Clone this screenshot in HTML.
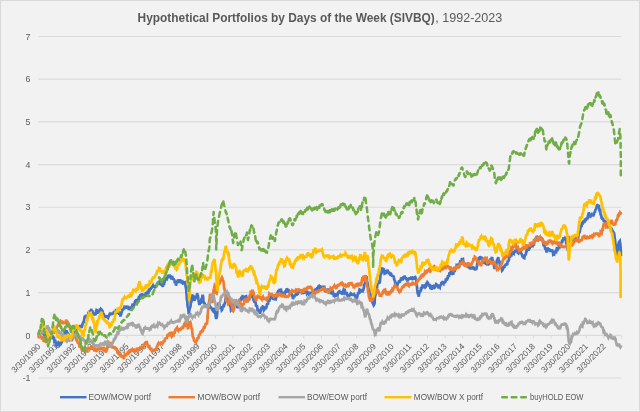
<!DOCTYPE html>
<html><head><meta charset="utf-8"><title>Hypothetical Portfolios by Days of the Week (SIVBQ), 1992-2023</title>
<style>html,body{margin:0;padding:0;background:#f2f2f2;}body{width:640px;height:412px;overflow:hidden;}svg{display:block;font-family:"Liberation Sans",sans-serif;}</style></head><body>
<svg width="640" height="412" viewBox="0 0 640 412">
<rect x="0.5" y="0.5" width="639" height="411" fill="#f2f2f2" stroke="#d9d9d9" stroke-width="1"/>
<line x1="38.3" x2="621.2" y1="378.00" y2="378.00" stroke="#dbdbdb" stroke-width="1.15"/>
<line x1="38.3" x2="621.2" y1="335.31" y2="335.31" stroke="#dbdbdb" stroke-width="1.15"/>
<line x1="38.3" x2="621.2" y1="292.62" y2="292.62" stroke="#dbdbdb" stroke-width="1.15"/>
<line x1="38.3" x2="621.2" y1="249.94" y2="249.94" stroke="#dbdbdb" stroke-width="1.15"/>
<line x1="38.3" x2="621.2" y1="207.25" y2="207.25" stroke="#dbdbdb" stroke-width="1.15"/>
<line x1="38.3" x2="621.2" y1="164.56" y2="164.56" stroke="#dbdbdb" stroke-width="1.15"/>
<line x1="38.3" x2="621.2" y1="121.88" y2="121.88" stroke="#dbdbdb" stroke-width="1.15"/>
<line x1="38.3" x2="621.2" y1="79.19" y2="79.19" stroke="#dbdbdb" stroke-width="1.15"/>
<line x1="38.3" x2="621.2" y1="36.50" y2="36.50" stroke="#dbdbdb" stroke-width="1.15"/>
<line x1="38.80" x2="38.80" y1="335.31" y2="338.31" stroke="#d9d9d9" stroke-width="1"/>
<line x1="56.46" x2="56.46" y1="335.31" y2="338.31" stroke="#d9d9d9" stroke-width="1"/>
<line x1="74.13" x2="74.13" y1="335.31" y2="338.31" stroke="#d9d9d9" stroke-width="1"/>
<line x1="91.79" x2="91.79" y1="335.31" y2="338.31" stroke="#d9d9d9" stroke-width="1"/>
<line x1="109.45" x2="109.45" y1="335.31" y2="338.31" stroke="#d9d9d9" stroke-width="1"/>
<line x1="127.12" x2="127.12" y1="335.31" y2="338.31" stroke="#d9d9d9" stroke-width="1"/>
<line x1="144.78" x2="144.78" y1="335.31" y2="338.31" stroke="#d9d9d9" stroke-width="1"/>
<line x1="162.45" x2="162.45" y1="335.31" y2="338.31" stroke="#d9d9d9" stroke-width="1"/>
<line x1="180.11" x2="180.11" y1="335.31" y2="338.31" stroke="#d9d9d9" stroke-width="1"/>
<line x1="197.77" x2="197.77" y1="335.31" y2="338.31" stroke="#d9d9d9" stroke-width="1"/>
<line x1="215.44" x2="215.44" y1="335.31" y2="338.31" stroke="#d9d9d9" stroke-width="1"/>
<line x1="233.10" x2="233.10" y1="335.31" y2="338.31" stroke="#d9d9d9" stroke-width="1"/>
<line x1="250.76" x2="250.76" y1="335.31" y2="338.31" stroke="#d9d9d9" stroke-width="1"/>
<line x1="268.43" x2="268.43" y1="335.31" y2="338.31" stroke="#d9d9d9" stroke-width="1"/>
<line x1="286.09" x2="286.09" y1="335.31" y2="338.31" stroke="#d9d9d9" stroke-width="1"/>
<line x1="303.75" x2="303.75" y1="335.31" y2="338.31" stroke="#d9d9d9" stroke-width="1"/>
<line x1="321.42" x2="321.42" y1="335.31" y2="338.31" stroke="#d9d9d9" stroke-width="1"/>
<line x1="339.08" x2="339.08" y1="335.31" y2="338.31" stroke="#d9d9d9" stroke-width="1"/>
<line x1="356.75" x2="356.75" y1="335.31" y2="338.31" stroke="#d9d9d9" stroke-width="1"/>
<line x1="374.41" x2="374.41" y1="335.31" y2="338.31" stroke="#d9d9d9" stroke-width="1"/>
<line x1="392.07" x2="392.07" y1="335.31" y2="338.31" stroke="#d9d9d9" stroke-width="1"/>
<line x1="409.74" x2="409.74" y1="335.31" y2="338.31" stroke="#d9d9d9" stroke-width="1"/>
<line x1="427.40" x2="427.40" y1="335.31" y2="338.31" stroke="#d9d9d9" stroke-width="1"/>
<line x1="445.06" x2="445.06" y1="335.31" y2="338.31" stroke="#d9d9d9" stroke-width="1"/>
<line x1="462.73" x2="462.73" y1="335.31" y2="338.31" stroke="#d9d9d9" stroke-width="1"/>
<line x1="480.39" x2="480.39" y1="335.31" y2="338.31" stroke="#d9d9d9" stroke-width="1"/>
<line x1="498.05" x2="498.05" y1="335.31" y2="338.31" stroke="#d9d9d9" stroke-width="1"/>
<line x1="515.72" x2="515.72" y1="335.31" y2="338.31" stroke="#d9d9d9" stroke-width="1"/>
<line x1="533.38" x2="533.38" y1="335.31" y2="338.31" stroke="#d9d9d9" stroke-width="1"/>
<line x1="551.05" x2="551.05" y1="335.31" y2="338.31" stroke="#d9d9d9" stroke-width="1"/>
<line x1="568.71" x2="568.71" y1="335.31" y2="338.31" stroke="#d9d9d9" stroke-width="1"/>
<line x1="586.37" x2="586.37" y1="335.31" y2="338.31" stroke="#d9d9d9" stroke-width="1"/>
<line x1="604.04" x2="604.04" y1="335.31" y2="338.31" stroke="#d9d9d9" stroke-width="1"/>
<line x1="621.70" x2="621.70" y1="335.31" y2="338.31" stroke="#d9d9d9" stroke-width="1"/>
<text x="30.5" y="381.20" font-size="8.8" fill="#595959" text-anchor="end">-1</text>
<text x="30.5" y="338.51" font-size="8.8" fill="#595959" text-anchor="end">0</text>
<text x="30.5" y="295.82" font-size="8.8" fill="#595959" text-anchor="end">1</text>
<text x="30.5" y="253.14" font-size="8.8" fill="#595959" text-anchor="end">2</text>
<text x="30.5" y="210.45" font-size="8.8" fill="#595959" text-anchor="end">3</text>
<text x="30.5" y="167.76" font-size="8.8" fill="#595959" text-anchor="end">4</text>
<text x="30.5" y="125.08" font-size="8.8" fill="#595959" text-anchor="end">5</text>
<text x="30.5" y="82.39" font-size="8.8" fill="#595959" text-anchor="end">6</text>
<text x="30.5" y="39.70" font-size="8.8" fill="#595959" text-anchor="end">7</text>
<text y="21.9" font-size="12.4" fill="#595959"><tspan x="137.6" font-weight="bold" textLength="297.2" lengthAdjust="spacingAndGlyphs">Hypothetical Portfolios by Days of the Week (SIVBQ)</tspan><tspan x="435.3" textLength="67" lengthAdjust="spacingAndGlyphs">, 1992-2023</tspan></text>
<text transform="translate(41.00,347.0) rotate(-45)" font-size="8.4" fill="#595959" text-anchor="end">3/30/1990</text>
<text transform="translate(58.66,347.0) rotate(-45)" font-size="8.4" fill="#595959" text-anchor="end">3/30/1991</text>
<text transform="translate(76.33,347.0) rotate(-45)" font-size="8.4" fill="#595959" text-anchor="end">3/30/1992</text>
<text transform="translate(93.99,347.0) rotate(-45)" font-size="8.4" fill="#595959" text-anchor="end">3/30/1993</text>
<text transform="translate(111.65,347.0) rotate(-45)" font-size="8.4" fill="#595959" text-anchor="end">3/30/1994</text>
<text transform="translate(129.32,347.0) rotate(-45)" font-size="8.4" fill="#595959" text-anchor="end">3/30/1995</text>
<text transform="translate(146.98,347.0) rotate(-45)" font-size="8.4" fill="#595959" text-anchor="end">3/30/1996</text>
<text transform="translate(164.65,347.0) rotate(-45)" font-size="8.4" fill="#595959" text-anchor="end">3/30/1997</text>
<text transform="translate(182.31,347.0) rotate(-45)" font-size="8.4" fill="#595959" text-anchor="end">3/30/1998</text>
<text transform="translate(199.97,347.0) rotate(-45)" font-size="8.4" fill="#595959" text-anchor="end">3/30/1999</text>
<text transform="translate(217.64,347.0) rotate(-45)" font-size="8.4" fill="#595959" text-anchor="end">3/30/2000</text>
<text transform="translate(235.30,347.0) rotate(-45)" font-size="8.4" fill="#595959" text-anchor="end">3/30/2001</text>
<text transform="translate(252.96,347.0) rotate(-45)" font-size="8.4" fill="#595959" text-anchor="end">3/30/2002</text>
<text transform="translate(270.63,347.0) rotate(-45)" font-size="8.4" fill="#595959" text-anchor="end">3/30/2003</text>
<text transform="translate(288.29,347.0) rotate(-45)" font-size="8.4" fill="#595959" text-anchor="end">3/30/2004</text>
<text transform="translate(305.95,347.0) rotate(-45)" font-size="8.4" fill="#595959" text-anchor="end">3/30/2005</text>
<text transform="translate(323.62,347.0) rotate(-45)" font-size="8.4" fill="#595959" text-anchor="end">3/30/2006</text>
<text transform="translate(341.28,347.0) rotate(-45)" font-size="8.4" fill="#595959" text-anchor="end">3/30/2007</text>
<text transform="translate(358.95,347.0) rotate(-45)" font-size="8.4" fill="#595959" text-anchor="end">3/30/2008</text>
<text transform="translate(376.61,347.0) rotate(-45)" font-size="8.4" fill="#595959" text-anchor="end">3/30/2009</text>
<text transform="translate(394.27,347.0) rotate(-45)" font-size="8.4" fill="#595959" text-anchor="end">3/30/2010</text>
<text transform="translate(411.94,347.0) rotate(-45)" font-size="8.4" fill="#595959" text-anchor="end">3/30/2011</text>
<text transform="translate(429.60,347.0) rotate(-45)" font-size="8.4" fill="#595959" text-anchor="end">3/30/2012</text>
<text transform="translate(447.26,347.0) rotate(-45)" font-size="8.4" fill="#595959" text-anchor="end">3/30/2013</text>
<text transform="translate(464.93,347.0) rotate(-45)" font-size="8.4" fill="#595959" text-anchor="end">3/30/2014</text>
<text transform="translate(482.59,347.0) rotate(-45)" font-size="8.4" fill="#595959" text-anchor="end">3/30/2015</text>
<text transform="translate(500.25,347.0) rotate(-45)" font-size="8.4" fill="#595959" text-anchor="end">3/30/2016</text>
<text transform="translate(517.92,347.0) rotate(-45)" font-size="8.4" fill="#595959" text-anchor="end">3/30/2017</text>
<text transform="translate(535.58,347.0) rotate(-45)" font-size="8.4" fill="#595959" text-anchor="end">3/30/2018</text>
<text transform="translate(553.25,347.0) rotate(-45)" font-size="8.4" fill="#595959" text-anchor="end">3/30/2019</text>
<text transform="translate(570.91,347.0) rotate(-45)" font-size="8.4" fill="#595959" text-anchor="end">3/30/2020</text>
<text transform="translate(588.57,347.0) rotate(-45)" font-size="8.4" fill="#595959" text-anchor="end">3/30/2021</text>
<text transform="translate(606.24,347.0) rotate(-45)" font-size="8.4" fill="#595959" text-anchor="end">3/30/2022</text>
<polyline points="38.5,334.1 39.0,332.9 39.4,332.0 39.9,335.2 40.3,333.1 40.8,332.0 41.3,333.5 41.7,330.5 42.2,332.2 42.7,330.5 43.1,333.4 43.6,334.0 44.1,333.1 44.6,332.4 45.0,336.2 45.5,337.3 46.0,336.6 46.5,338.6 46.9,336.3 47.4,339.3 47.9,338.5 48.3,337.7 48.7,336.6 49.1,337.9 49.6,336.1 50.0,339.0 50.4,337.9 50.8,335.8 51.2,338.1 51.7,335.8 52.1,338.7 52.5,336.1 52.9,336.6 53.4,339.2 53.9,336.6 54.3,340.9 54.8,340.4 55.2,339.6 55.7,343.9 56.1,343.5 56.6,341.6 57.0,345.1 57.5,344.6 58.0,342.9 58.4,342.3 58.9,342.8 59.4,345.4 59.9,344.8 60.3,344.5 60.7,344.3 61.1,342.3 61.6,342.4 62.0,341.7 62.4,340.4 62.9,337.3 63.3,335.8 63.8,333.9 64.3,332.8 64.8,333.8 65.2,330.7 65.7,330.9 66.2,331.6 66.6,331.5 67.0,334.6 67.4,334.1 67.9,336.0 68.4,334.2 68.9,335.0 69.3,337.9 69.8,339.6 70.3,340.5 70.7,339.2 71.2,341.0 71.6,339.2 72.1,339.5 72.5,337.9 73.0,335.7 73.4,335.3 73.9,332.5 74.4,331.6 74.8,332.6 75.2,330.7 75.6,330.7 76.1,326.9 76.5,329.2 76.9,327.1 77.3,325.4 77.7,327.7 78.2,325.2 78.6,327.9 79.0,325.3 79.4,326.2 79.9,327.7 80.3,325.0 80.7,328.1 81.1,325.9 81.5,327.8 82.0,326.5 82.4,324.4 82.9,323.4 83.4,322.1 83.8,322.7 84.3,318.9 84.7,316.6 85.1,316.4 85.6,318.1 86.0,315.8 86.5,315.7 87.0,317.0 87.5,317.0 87.9,316.2 88.4,312.8 88.9,312.6 89.4,313.7 89.8,310.3 90.3,312.0 90.8,310.4 91.3,308.9 91.7,312.8 92.2,310.3 92.7,312.0 93.2,314.5 93.6,312.6 94.1,315.3 94.6,314.5 95.1,314.2 95.6,314.2 96.1,311.4 96.5,310.0 96.9,310.2 97.3,313.2 97.7,312.6 98.2,313.3 98.7,310.2 99.1,312.8 99.6,310.7 100.1,308.6 100.6,311.4 101.0,309.1 101.5,309.5 101.9,311.4 102.3,310.0 102.8,312.6 103.2,314.2 103.6,313.3 104.0,315.8 104.5,317.5 105.0,315.2 105.4,317.9 105.9,316.4 106.5,315.3 107.0,317.1 107.5,317.4 108.0,317.9 108.4,316.5 108.9,316.1 109.4,314.8 109.8,315.6 110.3,312.7 110.8,315.0 111.3,312.6 111.7,314.0 112.2,314.8 112.7,312.6 113.1,314.2 113.6,312.8 114.1,313.2 114.5,314.0 115.0,310.8 115.5,314.2 115.9,311.1 116.4,311.6 116.9,313.4 117.3,310.6 117.8,313.6 118.3,312.1 118.8,313.2 119.3,312.8 119.8,313.7 120.3,315.5 120.8,315.4 121.2,311.7 121.7,312.3 122.2,310.6 122.7,308.5 123.1,309.9 123.6,308.8 124.1,308.1 124.5,306.7 125.0,306.9 125.5,308.8 125.9,307.8 126.4,305.8 126.9,306.8 127.3,307.7 127.8,306.0 128.3,307.2 128.8,309.9 129.2,307.1 129.7,308.5 130.2,310.1 130.6,306.5 131.1,308.6 131.6,309.0 132.0,306.9 132.5,304.9 133.0,305.1 133.4,306.1 133.9,305.8 134.4,303.8 134.8,304.3 135.3,300.8 135.8,300.3 136.3,300.3 136.7,300.7 137.2,302.3 137.7,298.8 138.1,300.6 138.6,298.4 139.1,299.1 139.5,299.0 140.0,296.2 140.4,296.6 140.8,295.5 141.3,296.7 141.7,293.4 142.2,294.6 142.7,296.1 143.1,293.7 143.6,296.3 144.1,294.3 144.5,296.2 145.0,293.9 145.5,297.0 145.9,293.0 146.4,292.9 146.9,293.8 147.3,294.5 147.8,290.8 148.3,293.7 148.8,290.4 149.2,290.7 149.7,291.4 150.2,288.3 150.6,289.8 151.1,286.9 151.6,288.3 152.0,286.9 152.5,286.4 153.0,285.5 153.4,286.5 153.9,286.8 154.4,287.1 154.8,284.9 155.3,287.7 155.8,286.5 156.2,285.2 156.7,286.4 157.2,282.7 157.7,284.7 158.1,282.7 158.6,282.9 159.1,283.3 159.6,280.5 160.2,282.1 160.6,281.3 161.1,281.9 161.6,285.9 162.0,283.3 162.5,286.0 163.0,286.7 163.4,283.4 163.9,285.0 164.4,281.2 164.8,281.3 165.4,279.7 165.9,277.9 166.4,279.0 166.9,279.2 167.3,277.0 167.8,278.0 168.3,274.9 168.8,275.8 169.2,277.9 169.7,274.5 170.2,278.3 170.6,276.0 171.1,277.4 171.6,279.4 172.0,276.0 172.5,277.3 173.0,279.8 173.4,278.2 173.9,280.4 174.4,279.3 174.8,283.1 175.3,281.3 175.8,284.4 176.2,284.5 176.7,282.2 177.2,283.2 177.7,279.7 178.1,280.5 178.6,282.6 179.1,279.3 179.5,281.9 180.0,279.3 180.5,281.3 180.9,283.1 181.4,280.4 181.9,282.4 182.3,282.9 182.8,282.1 183.3,283.1 183.8,281.1 184.2,284.4 184.7,283.4 185.2,282.9 185.7,287.0 186.2,289.1 186.4,292.6 186.6,294.8 186.9,299.7 187.2,299.8 187.5,305.4 187.8,307.2 188.2,308.1 188.6,312.8 189.1,312.7 189.6,308.7 190.2,307.2 190.5,306.4 190.9,301.0 191.2,299.4 191.7,300.0 192.1,297.6 192.5,295.5 193.0,295.7 193.5,296.3 194.1,299.4 194.6,300.8 195.1,297.5 195.6,297.9 196.1,297.0 196.7,295.6 197.2,293.2 197.6,296.0 198.0,296.0 198.4,299.4 199.0,303.0 199.5,304.9 200.1,302.4 200.6,303.6 201.1,301.8 201.6,297.9 202.1,298.5 202.7,294.8 203.1,296.2 203.4,301.0 204.0,303.6 204.5,302.4 205.0,305.7 205.5,307.0 205.9,304.3 206.4,307.9 206.9,304.6 207.3,306.5 207.8,307.9 208.3,304.7 208.8,307.6 209.2,304.1 209.7,305.7 210.2,308.4 210.7,306.6 211.2,308.8 211.7,307.8 212.2,309.8 212.7,310.4 213.1,311.0 213.6,309.6 214.1,309.0 214.6,309.5 215.2,311.9 215.7,316.8 216.2,319.0 216.7,317.2 217.1,315.0 217.5,310.4 218.0,306.0 218.5,303.6 219.1,302.6 219.6,305.0 220.1,307.3 220.6,307.2 221.1,306.5 221.7,310.2 222.2,309.6 222.7,306.4 223.2,307.3 223.8,304.1 224.3,304.8 224.8,303.1 225.3,301.8 225.8,297.4 226.4,297.3 226.9,293.2 227.4,293.8 227.9,299.2 228.4,299.4 229.0,299.8 229.5,304.5 230.0,305.7 230.5,305.3 231.0,310.2 231.6,309.6 232.1,307.2 232.6,309.0 233.1,306.5 233.6,304.0 234.2,302.5 234.7,302.6 235.2,301.4 235.7,304.2 236.2,304.1 236.8,303.8 237.3,308.0 237.8,307.2 238.3,303.5 238.9,304.3 239.4,301.0 239.9,298.7 240.4,301.2 240.9,298.7 241.5,296.9 242.0,298.0 242.5,296.3 243.0,296.5 243.5,300.2 244.1,299.4 244.6,296.6 245.1,297.9 245.6,296.3 246.1,296.2 246.6,298.5 247.0,297.2 247.5,300.0 248.0,299.4 248.4,298.5 248.9,300.3 249.4,299.2 249.8,296.8 250.3,297.9 250.8,295.8 251.4,297.3 251.9,295.5 252.4,295.2 252.9,296.4 253.4,299.4 254.0,299.1 254.5,302.8 255.0,301.8 255.5,302.2 256.0,305.6 256.6,305.7 257.1,306.3 257.6,310.4 258.1,310.4 258.6,310.3 259.2,310.9 259.7,312.7 260.2,312.7 260.7,310.9 261.2,308.8 261.8,306.8 262.3,308.6 262.8,306.5 263.3,306.7 263.9,310.2 264.4,309.6 264.8,308.1 265.3,306.5 265.8,309.1 266.3,307.6 266.7,305.7 267.2,303.3 267.8,304.7 268.3,301.8 268.8,299.9 269.3,301.3 269.8,299.4 270.3,297.3 270.8,297.4 271.2,296.9 271.7,297.5 272.2,297.9 272.7,297.0 273.1,299.9 273.6,297.0 274.1,300.0 274.5,299.4 275.0,297.6 275.5,298.5 275.9,298.8 276.4,295.4 276.9,295.3 277.3,292.8 277.8,292.2 278.3,290.8 278.8,290.7 279.2,291.4 279.7,288.9 280.2,289.9 280.6,291.1 281.1,290.6 281.6,293.1 282.0,293.2 282.5,293.0 283.0,294.5 283.4,294.3 283.9,293.0 284.4,295.4 284.8,294.6 285.2,291.6 285.7,291.0 286.1,293.0 286.5,288.6 286.9,289.1 287.3,290.2 287.8,288.7 288.3,292.0 288.8,290.7 289.2,292.9 289.7,291.4 290.2,292.0 290.6,292.0 291.1,294.6 291.6,293.4 292.0,296.4 292.5,295.7 293.0,299.0 293.4,297.7 293.9,295.7 294.4,297.3 294.8,294.5 295.3,295.8 295.8,294.6 296.2,292.4 296.7,295.8 297.2,293.1 297.7,294.8 298.1,293.0 298.6,291.9 299.1,293.0 299.5,290.4 300.0,292.1 300.5,290.7 300.9,290.1 301.4,292.6 301.9,290.0 302.3,292.1 302.8,291.5 303.3,293.0 303.8,292.9 304.2,289.3 304.7,291.7 305.2,290.7 305.6,289.7 306.1,293.2 306.6,290.7 307.0,293.6 307.5,293.0 308.0,291.5 308.4,294.4 308.9,292.3 309.4,296.1 309.8,294.6 310.3,292.9 310.8,293.0 311.2,292.0 311.7,295.2 312.2,293.0 312.7,291.8 313.1,293.3 313.6,290.6 314.1,292.3 314.5,290.7 315.0,289.4 315.5,290.8 315.9,288.3 316.4,290.2 316.9,288.3 317.3,287.6 317.8,289.7 318.3,286.5 318.8,286.1 319.2,287.6 319.7,285.3 320.2,288.6 320.6,288.5 321.1,286.9 321.6,286.0 322.0,288.3 322.5,288.8 323.0,286.0 323.4,286.7 323.9,288.3 324.4,287.8 324.8,290.0 325.3,291.2 325.8,291.3 326.2,290.7 326.7,289.7 327.2,291.2 327.7,288.6 328.1,290.9 328.6,289.9 329.1,289.9 329.5,292.9 330.0,290.6 330.5,293.0 330.9,293.0 331.4,292.3 331.9,294.5 332.3,292.1 332.8,291.8 333.3,293.8 333.7,295.4 334.2,295.2 334.7,296.2 335.2,295.9 335.6,295.4 336.1,293.2 336.6,295.3 337.0,295.0 337.5,295.4 338.0,293.0 338.4,292.1 338.9,291.6 339.4,291.3 339.8,293.4 340.3,292.2 340.8,290.9 341.2,293.4 341.7,292.5 342.2,294.7 342.7,293.8 343.2,291.3 343.7,289.4 344.2,289.9 344.7,289.0 345.3,293.3 345.8,293.0 346.3,293.5 346.8,293.3 347.3,296.2 347.8,295.1 348.3,296.8 348.8,296.2 349.2,296.1 349.7,294.6 350.2,294.1 350.6,295.7 351.1,293.7 351.6,294.2 352.0,295.4 352.5,293.6 353.0,295.9 353.4,294.2 353.9,295.9 354.4,294.6 354.9,295.3 355.4,296.6 355.9,298.5 356.5,298.1 357.0,297.9 357.5,295.4 358.0,293.4 358.5,293.3 359.1,291.5 359.5,289.6 359.9,289.9 360.4,291.9 360.8,291.5 361.3,289.1 361.7,290.5 362.1,289.0 362.5,290.4 362.9,290.9 363.3,290.0 363.8,288.1 364.3,283.8 364.8,284.6 365.3,280.3 365.7,279.7 366.1,278.7 366.6,276.4 367.0,280.7 367.4,282.8 367.8,283.4 368.3,288.3 368.8,289.7 369.2,290.0 369.6,294.0 370.0,294.4 370.5,294.4 371.0,299.4 371.6,299.1 372.1,299.8 372.6,303.0 373.1,303.8 373.7,305.3 374.2,304.5 374.6,303.2 374.9,296.9 375.3,295.9 375.7,294.2 376.1,289.0 376.6,288.1 377.1,287.1 377.6,282.2 378.1,281.9 378.6,283.9 379.2,282.2 379.7,283.4 380.1,279.4 380.5,275.4 380.9,274.1 381.5,273.2 382.0,268.6 382.5,267.8 383.1,271.2 383.6,270.9 384.1,270.4 384.6,273.6 385.2,273.3 385.6,271.8 386.1,274.0 386.6,270.9 387.0,270.7 387.5,271.7 388.0,271.4 388.4,273.1 388.9,271.8 389.4,273.3 389.8,274.7 390.2,272.4 390.6,275.9 391.0,275.2 391.4,274.8 391.9,276.3 392.3,275.1 392.8,277.0 393.3,275.6 393.8,277.2 394.3,279.9 394.8,280.4 395.3,283.4 395.8,285.6 396.4,285.9 396.9,285.0 397.3,286.1 397.8,281.9 398.3,283.2 398.8,281.9 399.2,280.3 399.6,282.3 400.0,281.5 400.4,280.7 400.8,279.5 401.2,277.4 401.6,278.1 402.0,277.6 402.4,280.4 402.8,278.8 403.3,276.6 403.8,279.2 404.2,275.8 404.7,276.4 405.2,278.9 405.6,277.7 406.1,278.2 406.6,280.3 407.0,279.2 407.4,281.5 407.8,278.1 408.2,280.5 408.6,278.8 409.0,278.0 409.4,279.6 409.8,277.1 410.2,278.9 410.6,278.0 411.1,277.4 411.6,276.7 412.0,279.9 412.5,278.8 413.0,279.8 413.4,276.7 413.9,278.3 414.4,277.2 414.9,277.0 415.4,279.6 415.9,278.8 416.3,279.9 416.6,285.0 416.9,285.8 417.2,289.7 417.7,293.3 418.2,293.6 418.8,296.7 419.2,293.6 419.6,291.3 420.0,291.2 420.5,292.0 421.0,287.3 421.6,288.1 422.0,286.7 422.5,285.5 423.0,285.7 423.4,286.6 423.9,286.1 424.4,288.1 424.8,286.2 425.3,287.3 425.8,286.8 426.4,283.5 426.9,283.4 427.4,282.1 427.9,282.6 428.4,284.2 429.0,286.3 429.5,284.0 430.0,286.6 430.5,289.1 431.0,286.8 431.6,288.9 432.0,289.7 432.4,286.6 432.8,286.8 433.2,286.4 433.6,287.3 434.0,287.4 434.4,287.8 434.8,287.3 435.2,287.1 435.6,285.0 436.1,284.0 436.6,284.4 437.0,286.5 437.5,285.8 438.0,284.4 438.4,288.4 438.9,286.1 439.4,287.3 439.8,287.7 440.3,284.4 440.8,286.0 441.3,283.0 441.7,283.0 442.2,283.7 442.7,281.1 443.1,282.9 443.6,283.6 444.1,281.5 444.5,283.1 445.0,282.0 445.5,281.7 445.9,278.5 446.4,279.9 446.8,280.5 447.2,277.5 447.6,279.3 448.0,276.1 448.4,276.0 449.0,276.8 449.5,272.3 450.0,272.9 450.5,273.2 450.9,270.9 451.4,270.2 451.9,271.3 452.4,270.3 452.9,273.8 453.4,273.7 454.0,270.8 454.5,272.0 455.0,269.8 455.5,268.2 455.9,267.6 456.4,265.9 456.9,266.6 457.3,264.6 457.7,265.2 458.1,266.3 458.5,263.5 458.9,265.1 459.4,265.5 460.0,262.3 460.5,262.7 461.0,263.1 461.5,261.0 462.0,258.0 462.5,260.7 463.1,260.0 463.6,263.5 464.0,264.9 464.4,262.5 464.8,266.1 465.2,263.6 465.6,265.8 466.1,266.5 466.6,263.8 467.0,266.9 467.5,265.1 468.0,264.1 468.4,268.0 468.9,265.8 469.4,267.4 469.8,268.9 470.2,266.8 470.6,269.6 471.0,266.4 471.4,268.2 471.8,269.1 472.2,267.2 472.6,269.0 473.0,266.5 473.4,267.4 473.9,269.4 474.4,267.4 474.8,270.4 475.3,269.0 475.8,268.8 476.4,268.8 476.9,266.6 477.4,262.5 477.9,263.7 478.4,259.6 478.9,257.3 479.4,260.3 479.8,256.5 480.3,257.2 480.7,259.1 481.1,256.6 481.5,259.6 481.9,257.2 482.3,258.8 482.9,261.2 483.4,259.5 483.9,261.2 484.4,263.6 485.0,261.7 485.5,263.5 486.0,263.8 486.5,261.6 487.0,261.9 487.5,261.9 488.1,261.7 488.6,264.3 489.0,264.1 489.4,261.2 489.8,262.1 490.2,259.6 490.6,259.6 491.2,260.5 491.7,258.0 492.3,258.1 492.8,261.9 493.2,264.7 493.6,263.5 494.1,266.6 494.6,269.0 495.1,266.3 495.6,268.2 496.1,266.2 496.7,261.4 497.2,259.6 497.7,259.2 498.3,257.2 498.7,260.8 499.1,262.0 499.5,261.9 500.0,265.4 500.6,267.2 501.1,267.4 501.6,267.6 502.1,270.5 502.7,269.8 503.1,268.6 503.5,267.2 503.9,266.7 504.3,267.9 504.7,266.6 505.2,265.2 505.6,266.0 506.1,263.5 506.6,264.3 507.1,265.2 507.6,261.4 508.1,261.2 508.5,260.9 509.0,259.4 509.4,256.5 509.9,257.9 510.4,254.4 510.9,254.9 511.4,255.1 511.9,251.9 512.3,255.0 512.8,252.6 513.3,253.0 513.8,253.5 514.2,251.0 514.7,252.5 515.2,251.0 515.7,249.6 516.2,251.4 516.7,250.2 517.2,249.7 517.8,253.0 518.3,253.3 518.7,251.7 519.1,251.8 519.5,250.5 519.9,252.7 520.3,251.8 520.8,251.8 521.2,253.2 521.7,254.0 522.2,255.7 522.7,257.3 523.2,256.1 523.8,258.0 524.3,258.2 524.8,255.2 525.3,254.9 525.7,254.7 526.1,252.9 526.6,250.2 527.1,250.5 527.6,249.1 528.1,249.4 528.6,250.7 529.1,246.4 529.5,249.1 530.0,247.1 530.0,244.6 530.5,245.9 530.9,246.1 531.4,243.9 531.9,246.8 532.3,246.2 532.7,244.0 533.2,244.9 533.6,244.0 534.0,244.1 534.4,241.5 534.8,239.6 535.3,240.7 535.8,237.6 536.2,238.3 536.7,236.9 537.2,236.9 537.7,239.5 538.1,239.9 538.6,239.1 539.0,240.5 539.4,237.3 539.8,239.6 540.2,236.4 540.6,237.6 541.1,239.5 541.6,237.7 542.0,240.9 542.5,239.9 543.0,241.0 543.5,245.2 544.1,245.4 544.6,245.9 545.1,248.5 545.6,249.3 546.0,249.1 546.4,251.6 546.9,252.4 547.5,247.6 548.0,248.5 548.5,249.9 549.0,248.2 549.5,250.4 550.0,251.0 550.6,251.0 551.1,249.3 551.6,251.6 552.1,249.5 552.7,251.6 553.2,254.5 553.7,254.1 554.2,254.4 554.7,252.2 555.3,251.3 555.8,250.8 556.3,251.4 556.8,248.3 557.3,248.5 557.9,249.3 558.4,248.3 558.9,246.9 559.4,247.1 559.8,243.3 560.3,245.0 560.8,244.3 561.2,242.2 561.7,242.9 562.2,239.7 562.7,240.5 563.1,239.1 563.5,237.4 563.9,240.2 564.3,237.8 564.8,239.7 565.2,238.3 565.7,239.0 566.2,243.4 566.7,243.8 567.3,245.4 567.8,250.1 568.2,251.1 568.6,247.3 569.1,247.7 569.6,244.9 570.1,243.4 570.6,243.8 571.1,243.9 571.6,244.4 572.0,243.1 572.5,240.6 573.0,240.7 573.4,241.9 573.9,239.0 574.4,241.4 574.8,238.5 575.3,239.1 575.8,239.9 576.2,237.0 576.7,237.6 577.2,237.1 577.7,237.6 578.2,237.1 578.7,233.8 579.2,232.9 579.8,231.9 580.3,228.2 580.7,226.8 581.1,225.8 581.6,225.8 582.1,222.9 582.6,222.3 583.1,222.7 583.6,220.6 584.2,223.0 584.7,220.4 585.2,218.6 585.7,221.0 586.2,219.6 586.8,217.8 587.3,219.4 587.8,216.5 588.2,216.7 588.6,212.6 589.1,213.3 589.6,215.4 590.1,216.1 590.6,216.5 591.1,215.5 591.7,214.6 592.2,215.7 592.7,214.5 593.2,216.2 593.8,214.9 594.3,211.9 594.8,212.7 595.3,210.2 595.8,209.4 596.4,208.1 596.9,205.5 597.4,205.1 597.9,205.4 598.4,206.3 598.9,206.2 599.3,210.1 599.7,211.0 600.2,210.6 600.6,214.5 601.1,214.9 601.6,218.0 602.2,218.0 602.6,219.7 603.0,217.9 603.4,220.4 603.9,221.4 604.3,220.1 604.7,221.2 605.2,223.3 605.6,220.7 606.1,223.8 606.6,223.5 607.0,222.3 607.5,225.7 608.0,223.7 608.4,227.2 608.9,226.6 609.4,225.5 609.8,228.7 610.3,227.1 610.8,229.5 611.2,229.0 611.7,227.9 612.2,232.1 612.7,230.0 613.1,233.3 613.6,232.1 614.1,233.2 614.7,237.6 615.1,240.3 615.5,245.0 615.8,247.3 616.2,252.3 616.5,254.0 617.0,254.3 617.5,256.0 617.7,254.1 617.9,249.6 618.1,248.5 618.3,245.0 618.8,242.6 619.4,241.5 619.8,241.0 620.3,244.0 620.5,246.4 620.8,250.0 620.9,253.9 621.0,255.0" fill="none" stroke="#4472c4" stroke-width="2.7" stroke-linejoin="miter" stroke-miterlimit="2.5" stroke-linecap="round"/>
<polyline points="38.5,336.0 39.0,338.1 39.4,334.9 39.8,337.9 40.3,335.7 40.7,338.3 41.1,336.1 41.6,337.2 42.0,339.6 42.4,337.7 42.8,338.4 43.2,338.0 43.7,341.9 44.1,341.0 44.6,339.8 45.0,342.4 45.5,340.5 46.0,341.6 46.5,342.9 46.9,338.6 47.4,341.0 47.9,339.1 48.4,336.5 48.8,336.4 49.3,336.6 49.8,336.6 50.2,336.9 50.7,336.0 51.2,335.8 51.7,334.1 52.1,332.7 52.6,334.0 53.1,331.4 53.6,331.6 54.0,332.8 54.5,332.7 55.0,331.4 55.5,330.3 55.9,331.2 56.4,329.7 56.9,326.6 57.3,326.5 57.8,326.2 58.3,323.4 58.8,324.8 59.2,322.7 59.7,321.5 60.2,323.1 60.7,321.0 61.1,321.4 61.6,322.9 62.1,320.5 62.5,324.1 63.0,323.3 63.5,321.5 64.0,324.1 64.4,321.6 64.9,322.7 65.4,323.9 65.9,320.6 66.3,319.8 66.8,321.4 67.3,320.6 67.8,324.2 68.2,322.8 68.7,324.0 69.2,326.5 69.6,325.4 70.1,328.9 70.6,329.0 71.1,329.6 71.5,332.7 72.0,331.0 72.5,334.1 73.0,336.0 73.4,333.4 73.9,336.9 74.4,336.6 74.8,336.4 75.2,336.6 75.6,336.1 76.1,339.8 76.5,340.3 76.9,339.1 77.4,341.8 77.8,342.7 78.3,343.1 78.8,342.9 79.3,346.0 79.7,347.3 80.2,345.0 80.7,347.9 81.1,347.3 81.5,348.1 81.9,350.5 82.4,348.6 82.8,351.7 83.2,350.5 83.6,348.6 84.1,351.4 84.5,348.7 84.9,351.9 85.3,348.4 85.7,349.8 86.2,351.1 86.6,351.3 87.0,350.8 87.4,348.1 87.8,350.1 88.3,348.6 88.7,347.6 89.1,348.9 89.5,347.0 89.9,349.5 90.4,347.2 90.8,347.9 91.2,347.0 91.6,346.7 92.0,349.8 92.5,346.9 92.9,348.3 93.3,349.2 93.7,347.4 94.2,350.3 94.6,351.4 95.0,348.1 95.4,348.7 95.8,349.8 96.2,348.9 96.7,350.9 97.1,350.7 97.5,348.4 97.9,349.6 98.3,348.6 98.8,347.8 99.2,350.5 99.6,348.0 100.0,348.6 100.0,347.6 100.4,348.7 100.9,346.6 101.3,350.1 101.8,347.0 102.2,349.9 102.7,347.0 103.1,349.1 103.6,350.2 104.0,350.1 104.5,351.1 104.9,348.0 105.4,351.2 105.8,351.3 106.2,349.9 106.7,350.3 107.1,349.0 107.6,346.0 108.0,344.9 108.5,344.6 108.9,343.6 109.4,344.4 109.9,345.8 110.4,342.1 110.9,342.9 111.5,345.9 112.0,345.1 112.5,348.3 113.0,347.5 113.4,347.3 113.9,348.5 114.4,346.4 114.8,347.6 115.3,349.1 115.8,347.3 116.2,350.2 116.7,349.4 117.2,350.7 117.7,349.7 118.1,351.7 118.6,351.8 119.1,352.1 119.5,354.6 120.0,356.4 120.5,354.3 120.9,357.3 121.4,355.0 121.9,356.2 122.4,357.7 122.9,355.8 123.4,357.7 123.9,359.0 124.4,355.6 124.8,354.4 125.3,355.2 125.8,355.4 126.2,356.2 126.7,353.4 127.2,354.9 127.7,351.5 128.1,352.2 128.6,352.8 129.1,350.0 129.5,353.1 130.0,349.3 130.5,350.7 130.9,352.1 131.4,349.7 131.9,349.5 132.3,349.1 132.8,349.9 133.3,351.5 133.8,348.4 134.2,351.3 134.7,352.3 135.2,350.7 135.6,352.0 136.1,349.0 136.6,350.9 137.0,347.7 137.5,349.1 138.0,350.4 138.4,349.7 138.9,349.5 139.4,349.1 139.8,348.3 140.3,349.4 140.8,346.9 141.2,348.9 141.7,346.4 142.2,347.6 142.7,348.3 143.1,348.0 143.6,346.3 144.1,343.8 144.5,344.4 145.0,343.4 145.5,341.9 145.9,343.8 146.4,341.3 146.9,342.1 147.3,344.3 147.8,345.6 148.3,346.6 148.8,346.0 149.2,344.8 149.6,348.1 150.0,347.1 150.4,350.1 150.8,349.1 151.2,347.7 151.7,350.9 152.2,351.4 152.7,351.3 153.1,350.7 153.6,349.4 154.1,351.8 154.5,348.6 155.0,350.5 155.5,349.1 155.9,348.9 156.4,349.1 156.9,346.8 157.3,346.2 157.8,344.4 158.3,343.5 158.8,344.8 159.2,342.3 159.7,344.8 160.2,342.9 160.6,344.3 161.1,341.6 161.6,343.1 162.0,343.6 162.5,342.1 163.0,343.1 163.4,342.6 163.9,340.2 164.4,342.1 164.8,339.8 165.3,337.7 165.8,339.2 166.2,337.3 166.7,339.1 167.2,336.6 167.7,334.0 168.2,336.3 168.8,334.3 169.2,332.9 169.7,335.0 170.2,335.3 170.6,331.9 171.1,332.7 171.6,333.0 172.1,336.4 172.7,335.8 173.1,334.0 173.6,334.5 174.1,331.7 174.5,333.6 175.0,331.2 175.5,328.7 176.0,330.5 176.6,328.0 177.0,327.5 177.5,329.8 178.0,330.4 178.4,328.2 178.9,329.6 179.4,328.3 179.8,330.9 180.3,328.2 180.8,329.7 181.2,328.8 181.7,327.1 182.2,329.3 182.7,326.0 183.1,328.3 183.6,326.5 184.1,324.5 184.6,324.7 185.2,322.6 185.7,322.2 186.2,325.2 186.7,324.9 187.2,325.1 187.8,328.2 188.3,328.0 188.8,323.5 189.4,321.3 189.9,323.2 190.4,322.5 190.9,324.4 191.5,328.7 192.0,328.8 192.5,333.8 192.9,337.4 193.3,336.8 193.8,339.3 194.3,341.4 194.8,339.8 195.3,342.4 195.8,342.5 196.2,339.9 196.7,341.4 197.2,339.3 197.7,337.4 198.2,338.9 198.8,336.2 199.3,334.2 199.8,335.5 200.3,333.0 200.8,331.1 201.2,333.3 201.7,330.1 202.2,331.6 202.7,329.1 203.1,329.8 203.6,328.5 204.1,326.0 204.5,328.5 205.0,326.0 205.5,324.5 205.9,322.8 206.4,324.0 206.9,323.6 207.3,321.3 207.5,316.7 207.7,316.8 207.9,311.8 208.1,310.4 208.5,308.1 208.9,304.1 209.3,299.7 209.6,299.2 210.0,294.8 210.4,294.8 210.8,299.7 211.2,299.4 211.7,299.2 212.1,302.1 212.5,302.6 212.8,298.3 213.0,297.5 213.3,292.3 213.6,290.1 214.1,288.3 214.7,285.4 215.2,286.1 215.7,291.5 216.2,293.2 216.7,293.5 217.1,291.4 217.5,288.5 218.0,285.3 218.5,283.8 219.1,283.8 219.5,284.3 220.0,280.6 220.5,279.6 220.9,279.9 221.5,278.3 222.0,277.3 222.5,278.3 222.9,280.9 223.3,281.0 223.8,283.8 224.1,288.3 224.5,288.4 224.8,291.6 225.3,294.9 225.7,295.2 226.1,298.7 226.6,301.8 227.1,299.9 227.7,302.6 228.1,304.2 228.6,303.8 229.1,302.9 229.5,300.4 230.0,301.0 230.5,302.9 230.9,301.9 231.4,305.2 231.9,305.7 232.3,306.1 232.7,310.9 233.1,311.2 233.5,310.6 234.0,309.2 234.4,305.7 234.9,301.8 235.5,301.8 236.0,304.2 236.5,302.7 237.0,304.1 237.6,303.8 238.1,301.3 238.6,301.0 239.1,301.9 239.6,300.9 240.2,301.8 240.7,305.3 241.2,304.0 241.7,306.5 242.2,307.0 242.8,304.3 243.3,304.1 243.8,304.9 244.3,300.6 244.8,301.0 245.4,302.4 245.9,298.0 246.4,299.4 246.9,299.2 247.4,302.2 248.0,301.0 248.5,298.3 249.0,299.4 249.5,296.3 250.1,296.5 250.6,292.7 251.1,293.2 251.6,292.9 252.1,290.7 252.7,290.8 253.2,293.4 253.7,293.2 254.2,296.3 254.7,298.2 255.3,298.3 255.8,300.2 256.3,300.1 256.8,296.8 257.3,296.3 257.9,297.3 258.4,295.4 258.9,297.1 259.4,298.3 259.8,296.1 260.3,298.9 260.8,296.9 261.2,298.7 261.7,299.3 262.2,296.5 262.7,297.4 263.1,296.7 263.6,297.9 264.1,300.0 264.5,297.8 265.0,299.4 265.5,298.0 265.9,299.4 266.4,299.9 266.9,296.6 267.3,299.7 267.8,298.2 268.3,297.1 268.8,296.8 269.3,293.5 269.8,294.0 270.3,294.9 270.7,293.5 271.1,295.7 271.5,293.1 271.9,294.0 272.3,295.4 272.8,294.3 273.3,297.1 273.8,294.1 274.2,296.6 274.7,296.2 275.2,294.6 275.6,297.1 276.1,294.5 276.6,294.0 277.0,294.6 277.5,295.9 278.0,296.0 278.4,293.5 278.9,295.5 279.4,293.8 279.8,293.9 280.3,294.1 280.8,294.4 281.3,295.8 281.7,296.9 282.2,295.4 282.7,297.3 283.1,295.0 283.6,294.0 284.1,295.4 284.5,296.8 285.0,295.2 285.5,297.9 285.9,295.7 286.4,297.7 286.9,295.6 287.5,296.8 288.0,295.4 288.4,296.4 288.9,295.9 289.4,292.8 289.8,294.5 290.3,293.0 290.8,291.4 291.2,291.2 291.7,292.2 292.2,290.3 292.7,290.7 293.1,289.7 293.6,292.4 294.1,289.9 294.5,292.5 295.0,291.5 295.5,290.7 295.9,291.9 296.4,289.1 296.9,292.2 297.3,290.7 297.8,288.6 298.3,292.0 298.8,288.4 299.2,292.0 299.7,289.9 300.2,289.2 300.6,291.9 301.1,289.3 301.6,292.0 302.0,291.5 302.5,290.2 303.1,292.7 303.6,290.7 304.1,288.3 304.5,291.3 305.0,287.6 305.5,290.3 305.9,288.3 306.4,289.6 306.9,289.5 307.3,286.7 307.8,288.5 308.3,287.6 308.7,285.9 309.2,288.8 309.7,286.1 310.2,287.6 310.6,286.8 311.1,287.1 311.7,288.2 312.2,290.7 312.7,290.0 313.2,293.4 313.8,293.8 314.2,291.7 314.7,294.7 315.2,292.6 315.6,292.1 316.1,293.0 316.6,291.1 317.0,291.8 317.5,290.9 318.0,292.5 318.4,291.5 318.9,289.5 319.4,291.5 319.8,289.4 320.3,291.4 320.8,289.9 321.2,290.9 321.7,288.3 322.2,289.7 322.7,289.5 323.1,288.3 323.6,287.0 324.1,290.0 324.5,290.8 325.0,288.4 325.5,289.9 325.9,289.1 326.4,292.4 326.9,289.7 327.3,292.5 327.8,291.5 328.3,292.6 328.8,292.6 329.2,289.7 329.7,291.5 330.2,289.9 330.6,288.1 331.1,288.7 331.6,287.1 332.0,290.2 332.5,288.3 333.0,286.8 333.4,288.4 333.9,286.4 334.4,285.6 334.8,286.8 335.3,287.7 335.8,285.3 336.2,287.9 336.7,287.8 337.2,286.0 337.7,284.7 338.1,286.9 338.6,283.9 339.1,285.9 339.5,284.4 340.0,283.2 340.6,285.1 341.1,282.9 341.6,282.7 342.0,284.9 342.5,282.4 343.0,286.2 343.4,285.2 343.9,284.3 344.4,287.0 344.8,283.8 345.3,284.6 345.8,286.0 346.2,286.6 346.7,286.3 347.2,284.5 347.7,286.9 348.1,285.2 348.6,285.8 349.1,284.8 349.5,282.3 350.0,284.3 350.5,282.9 350.9,283.8 351.4,282.2 351.9,283.3 352.3,285.8 352.8,284.4 353.3,286.2 353.8,285.6 354.2,284.5 354.7,286.7 355.2,286.0 355.6,285.3 356.1,284.4 356.6,284.2 357.0,287.0 357.5,285.2 358.0,284.4 358.4,284.0 358.9,283.8 359.4,284.7 359.8,286.0 360.4,284.7 360.9,285.9 361.4,283.7 362.0,279.5 362.5,277.4 362.9,278.9 363.3,275.8 363.8,276.6 364.3,280.2 364.8,280.5 365.2,277.3 365.6,275.1 366.0,278.6 366.5,279.2 366.9,283.4 367.2,287.5 367.6,286.7 368.0,291.2 368.5,293.4 369.1,297.5 369.5,297.4 369.9,299.2 370.3,301.4 370.8,300.1 371.4,301.7 371.9,299.8 372.4,298.2 372.9,298.9 373.4,297.5 374.0,294.2 374.5,295.1 375.0,292.8 375.5,290.0 376.0,292.3 376.6,289.7 377.1,288.8 377.6,292.8 378.1,292.8 378.6,291.8 379.2,293.3 379.7,295.2 380.2,294.9 380.7,295.0 381.2,296.7 381.7,294.0 382.2,294.9 382.7,291.7 383.1,291.2 383.6,292.5 384.2,291.7 384.7,289.7 385.2,289.5 385.7,291.3 386.2,293.6 386.7,295.2 387.1,294.5 387.5,294.0 387.9,291.1 388.3,292.8 388.7,293.9 389.1,294.3 389.5,294.1 389.9,291.3 390.3,292.0 390.8,292.1 391.2,289.8 391.7,291.5 392.2,289.7 392.7,290.5 393.1,289.9 393.6,288.1 394.1,286.6 394.5,285.5 394.9,285.1 395.3,287.2 395.7,287.8 396.1,285.8 396.6,287.6 397.1,286.3 397.7,288.9 398.1,290.7 398.5,288.9 398.9,291.0 399.3,291.8 399.7,291.2 400.2,292.6 400.6,289.3 401.1,290.1 401.6,288.9 402.0,287.6 402.5,286.6 403.0,286.5 403.4,286.6 403.8,286.7 404.3,284.4 404.7,286.6 405.1,283.6 405.5,284.2 405.9,285.9 406.3,283.0 406.7,285.2 407.1,282.8 407.5,283.4 408.0,282.2 408.4,285.7 408.9,286.2 409.4,285.0 409.8,284.0 410.3,285.5 410.8,283.0 411.2,284.2 411.7,285.6 412.1,283.2 412.5,282.7 412.9,281.7 413.3,283.4 413.7,284.5 414.1,282.7 414.5,285.3 414.9,283.2 415.3,284.2 415.8,285.3 416.2,283.9 416.7,283.1 417.2,281.9 417.7,279.1 418.1,280.9 418.6,280.4 419.1,278.8 419.5,280.2 419.9,276.8 420.3,278.6 420.7,277.0 421.1,277.2 421.5,275.6 421.9,274.7 422.3,277.4 422.7,274.7 423.1,274.8 423.6,275.6 424.1,274.9 424.5,273.1 425.0,271.7 425.5,272.6 425.9,273.1 426.4,272.9 426.9,272.5 427.3,270.9 427.8,269.5 428.3,271.8 428.8,269.5 429.2,269.1 429.7,270.6 430.2,271.6 430.6,271.4 431.1,268.7 431.6,270.0 432.0,268.6 432.5,269.0 433.0,267.2 433.4,267.0 433.9,266.5 434.4,267.8 434.8,267.0 435.3,269.1 435.8,267.8 436.3,270.8 436.7,269.4 437.2,269.0 437.7,271.6 438.1,269.0 438.6,271.6 439.1,270.2 439.5,270.5 439.9,270.7 440.4,268.1 440.8,271.2 441.3,267.3 441.7,269.0 442.2,269.1 442.7,266.7 443.1,269.1 443.6,265.5 444.1,266.6 444.5,268.2 445.0,268.0 445.5,268.1 445.9,264.7 446.4,265.8 446.9,267.7 447.3,264.8 447.8,268.1 448.3,266.0 448.8,267.4 449.2,266.2 449.7,268.8 450.2,269.1 450.6,266.7 451.1,268.2 451.6,269.8 452.0,267.7 452.5,270.0 453.0,270.3 453.4,269.0 453.9,270.0 454.4,266.7 454.8,268.5 455.3,268.9 455.8,266.6 456.2,268.0 456.7,265.2 457.2,268.0 457.7,268.0 458.1,267.4 458.6,268.4 459.1,264.9 459.5,265.7 460.0,264.3 460.4,263.3 460.8,264.4 461.2,262.0 461.6,263.8 462.0,262.7 462.4,262.2 462.8,264.6 463.2,263.6 463.7,263.3 464.1,265.1 464.5,263.5 465.0,266.8 465.5,264.4 465.9,265.8 466.4,266.0 466.9,263.0 467.3,264.8 467.8,263.5 468.2,262.1 468.6,265.5 469.0,262.8 469.4,266.4 469.8,265.1 470.2,263.9 470.7,265.1 471.1,265.4 471.5,264.7 471.9,263.5 472.3,261.4 472.8,262.6 473.3,259.4 473.8,259.6 474.3,259.5 474.8,256.8 475.3,257.2 475.8,259.6 476.4,257.9 476.9,259.6 477.4,262.2 477.9,260.7 478.4,262.7 478.9,265.1 479.4,261.9 479.8,262.6 480.3,263.6 480.8,265.1 481.2,266.2 481.6,262.1 482.0,264.1 482.4,261.0 482.8,261.2 483.3,262.0 483.8,258.3 484.2,258.3 484.7,258.0 485.2,257.8 485.7,261.0 486.2,259.6 486.8,258.9 487.3,262.8 487.8,262.7 488.3,260.6 488.8,263.1 489.2,260.7 489.7,260.7 490.2,261.9 490.6,260.7 491.1,264.4 491.6,261.0 492.0,264.4 492.5,263.5 493.0,261.5 493.4,263.7 493.9,261.0 494.4,262.7 494.9,265.0 495.4,263.9 495.9,266.6 496.5,266.2 497.0,269.5 497.5,269.0 497.9,269.3 498.3,267.2 498.7,269.4 499.1,268.7 499.5,267.4 500.0,267.5 500.6,266.6 501.1,264.3 501.6,264.1 502.1,263.5 502.7,260.4 503.2,260.1 503.7,257.4 504.2,257.2 504.7,258.5 505.2,258.3 505.6,255.6 506.1,254.4 506.6,255.7 507.0,256.1 507.5,253.8 508.0,256.2 508.4,252.6 508.9,254.1 509.4,254.7 510.0,251.7 510.5,251.8 511.0,252.4 511.5,247.6 512.0,247.9 512.5,248.4 513.1,245.7 513.6,245.5 514.1,246.5 514.6,246.7 515.2,244.8 515.7,244.2 516.2,247.6 516.7,247.1 517.2,247.0 517.8,246.8 518.3,248.7 518.7,250.2 519.1,249.7 519.5,249.8 519.9,250.3 520.3,249.4 520.8,250.7 521.2,247.9 521.7,250.2 522.2,248.7 522.7,247.0 523.2,249.3 523.8,247.1 524.2,246.1 524.7,247.9 525.2,247.4 525.6,246.3 526.0,246.7 526.4,244.1 526.8,246.6 527.3,247.0 527.7,245.5 528.1,246.3 528.6,244.9 529.1,246.5 529.5,244.4 530.0,245.5 530.0,244.6 530.5,245.0 530.9,242.0 531.4,244.7 531.9,241.8 532.3,243.0 532.7,243.6 533.2,243.6 533.6,242.1 534.0,239.0 534.4,239.9 534.8,240.9 535.3,240.0 535.8,239.3 536.2,238.3 536.7,237.9 537.2,240.5 537.7,240.6 538.1,239.5 538.6,239.1 539.0,237.9 539.4,237.7 539.8,237.2 540.2,239.8 540.6,239.1 541.1,238.4 541.6,239.2 542.0,239.4 542.5,240.7 543.0,240.2 543.4,241.2 543.9,244.3 544.4,243.0 544.8,241.4 545.2,242.4 545.6,242.3 546.0,245.2 546.4,244.6 546.8,243.0 547.2,242.1 547.6,244.3 548.0,243.3 548.4,241.5 548.9,239.8 549.4,242.9 549.8,239.6 550.3,240.7 550.8,242.5 551.2,240.1 551.7,242.8 552.2,243.3 552.7,241.5 553.1,242.9 553.6,242.3 554.1,243.4 554.5,241.2 555.0,242.2 555.5,241.1 555.9,241.5 556.4,244.3 556.9,241.3 557.3,243.0 557.8,244.6 558.3,245.5 558.8,243.2 559.2,243.0 559.7,244.6 560.2,246.8 560.6,244.5 561.1,243.6 561.6,245.2 562.0,246.2 562.5,247.7 563.0,245.5 563.4,247.6 563.9,246.0 564.4,246.9 564.8,248.0 565.3,245.8 565.8,247.5 566.3,243.9 566.7,245.4 567.2,245.3 567.8,244.1 568.3,240.7 568.7,240.0 569.1,236.0 569.5,239.6 569.9,240.8 570.3,242.2 570.8,242.2 571.4,245.6 571.9,244.6 572.3,242.6 572.8,244.2 573.3,243.5 573.8,242.2 574.3,242.1 574.8,239.0 575.3,239.9 575.8,240.6 576.4,240.8 576.9,239.1 577.3,241.0 577.8,238.0 578.3,242.0 578.8,240.7 579.2,241.9 579.6,241.7 580.0,240.0 580.4,240.1 580.8,241.5 581.2,239.3 581.6,240.7 582.0,239.9 582.4,238.7 582.8,236.0 583.3,237.3 583.8,238.0 584.2,234.9 584.7,236.8 585.2,238.0 585.6,237.7 586.1,238.9 586.6,235.6 587.0,237.6 587.5,239.3 588.0,236.1 588.4,237.7 588.9,238.6 589.4,236.8 589.8,238.5 590.3,235.0 590.8,238.2 591.3,235.1 591.7,236.0 592.2,236.5 592.7,234.0 593.1,236.6 593.6,236.1 594.1,234.4 594.5,234.8 595.0,233.2 595.5,235.0 595.9,232.6 596.4,233.7 596.9,234.7 597.3,232.9 597.8,234.0 598.3,234.8 598.8,236.0 599.2,236.8 599.7,233.2 600.2,235.4 600.6,232.3 601.1,232.9 601.6,233.4 602.1,229.8 602.7,229.8 603.2,226.2 603.7,224.2 604.2,224.3 604.8,224.8 605.3,223.5 605.7,223.3 606.1,227.0 606.6,226.6 607.1,225.3 607.6,226.3 608.1,225.1 608.6,223.9 609.2,225.5 609.7,223.5 610.2,220.8 610.7,223.1 611.2,221.2 611.7,219.9 612.2,223.3 612.7,223.8 613.1,222.7 613.5,224.8 613.9,222.7 614.3,225.7 614.8,223.7 615.2,225.1 615.7,221.7 616.2,220.3 616.7,220.4 617.3,219.1 617.8,216.5 618.2,214.0 618.6,216.7 619.1,214.1 619.5,212.3 619.9,215.0 620.3,212.6 620.9,213.3" fill="none" stroke="#ed7d31" stroke-width="2.7" stroke-linejoin="miter" stroke-miterlimit="2.5" stroke-linecap="round"/>
<polyline points="38.5,334.1 39.0,334.6 39.4,332.3 39.8,333.7 40.3,332.6 40.7,332.3 41.1,331.4 41.6,332.2 42.0,330.7 42.5,331.1 43.0,332.2 43.5,331.6 43.9,330.6 44.4,333.3 44.9,331.6 45.4,332.8 45.8,331.6 46.3,328.8 46.8,328.6 47.2,326.5 47.7,326.4 48.1,328.2 48.5,328.4 48.9,328.3 49.4,331.8 49.8,332.2 50.2,331.6 50.7,333.0 51.2,330.8 51.7,331.6 52.1,332.1 52.5,330.7 52.9,331.4 53.4,329.8 53.8,329.3 54.2,330.3 54.6,329.6 55.0,329.4 55.5,330.0 55.9,330.5 56.3,328.1 56.7,329.0 57.2,330.8 57.7,329.5 58.1,332.2 58.6,331.6 59.1,331.5 59.6,333.7 60.0,332.1 60.5,333.4 61.0,333.2 61.4,334.5 61.9,334.6 62.4,334.1 62.9,333.9 63.3,336.5 63.8,335.0 64.3,336.6 64.8,338.0 65.2,336.6 65.7,339.7 66.2,339.1 66.6,341.0 67.0,341.5 67.4,341.0 67.9,340.2 68.4,339.2 68.9,339.3 69.3,339.8 69.8,338.2 70.3,339.2 70.7,339.5 71.2,337.9 71.7,336.6 72.2,335.3 72.6,335.0 73.1,335.3 73.6,336.0 74.1,334.2 74.5,336.0 75.0,334.7 75.5,334.0 76.0,335.9 76.4,334.6 76.9,335.3 77.4,336.8 77.8,335.2 78.3,335.5 78.8,336.6 79.3,335.7 79.7,337.7 80.2,337.1 80.7,337.9 81.2,339.0 81.6,337.9 82.1,338.0 82.6,339.1 83.1,339.0 83.5,341.0 84.0,339.4 84.5,340.4 84.9,342.1 85.4,340.3 85.9,342.5 86.4,342.3 86.8,341.4 87.3,342.3 87.8,341.3 88.3,340.4 88.7,340.9 89.1,338.7 89.5,339.1 90.0,340.4 90.5,339.4 90.9,341.4 91.4,341.0 91.9,341.0 92.4,343.7 92.8,342.4 93.3,344.2 93.8,344.3 94.3,346.5 94.7,346.6 95.2,346.7 95.7,345.4 96.1,345.2 96.6,345.5 97.1,346.1 97.5,346.7 97.9,345.0 98.4,346.5 98.8,344.2 99.2,345.4 99.6,344.8 100.0,344.3 100.5,345.4 100.9,343.8 101.3,343.8 101.7,345.1 102.1,344.2 102.6,344.4 103.0,342.6 103.4,344.3 103.8,342.1 104.3,343.6 104.7,342.9 105.1,343.9 105.6,343.3 106.0,342.6 106.5,343.2 106.9,341.2 107.4,342.3 107.8,341.3 108.3,341.6 108.8,345.1 109.2,344.5 109.7,345.8 110.2,347.6 110.5,345.5 110.9,346.0 111.4,345.6 111.9,343.0 112.3,344.0 112.8,342.8 113.3,341.3 113.7,340.9 114.2,338.1 114.7,339.3 115.2,338.7 115.6,336.6 116.1,336.7 116.6,334.4 117.0,335.0 117.5,332.5 118.0,332.7 118.4,333.0 118.9,330.5 119.4,331.6 119.8,329.6 120.3,329.6 120.8,329.1 121.2,328.5 121.7,329.6 122.1,330.3 122.5,328.0 123.0,328.0 123.4,328.8 123.9,327.4 124.3,328.9 124.8,328.6 125.2,327.2 125.7,328.7 126.1,326.5 126.6,327.2 127.0,327.5 127.5,325.6 128.0,326.2 128.4,324.3 128.9,324.1 129.4,324.4 129.8,323.2 130.3,324.5 130.8,324.4 131.2,323.3 131.7,323.2 132.2,322.9 132.7,323.1 133.1,325.1 133.6,324.9 134.0,326.3 134.5,324.9 134.9,326.0 135.4,324.5 135.8,327.4 136.3,327.5 136.7,326.5 137.2,326.9 137.7,326.8 138.1,325.0 138.6,324.8 139.1,325.7 139.5,327.5 140.0,326.7 140.5,329.5 140.9,329.6 141.5,331.3 142.0,333.0 142.5,333.5 142.9,331.4 143.3,332.2 143.7,330.1 144.1,328.6 144.5,328.8 145.0,328.0 145.5,329.6 145.9,328.0 146.4,329.5 146.9,328.0 147.3,327.3 147.8,329.7 148.2,327.6 148.7,329.3 149.1,328.4 149.6,329.9 150.0,329.6 150.4,330.2 150.9,327.2 151.3,326.7 151.8,327.8 152.2,326.4 152.7,327.5 153.1,325.7 153.6,325.1 154.1,326.6 154.5,327.0 155.0,327.2 155.5,326.5 155.9,324.8 156.4,327.0 156.8,325.9 157.3,326.4 157.7,324.4 158.1,323.3 158.6,324.1 159.0,323.7 159.5,323.0 159.9,323.3 160.4,323.9 160.8,324.3 161.3,325.7 161.7,324.9 162.2,324.6 162.6,326.2 163.1,324.9 163.5,327.2 163.9,325.4 164.4,327.7 164.8,327.2 165.3,325.7 165.7,325.6 166.2,325.7 166.6,326.9 167.1,324.9 167.5,324.0 168.0,324.9 168.4,323.6 168.9,324.7 169.4,322.1 169.8,323.0 170.3,321.8 170.8,321.1 171.2,322.9 171.7,320.8 172.1,323.1 172.5,321.4 173.0,323.7 173.4,322.6 173.9,321.3 174.3,323.3 174.8,321.2 175.2,322.4 175.7,320.6 176.1,322.1 176.6,321.0 177.0,320.4 177.5,322.5 178.0,320.6 178.4,320.3 178.9,321.8 179.4,319.6 179.8,320.3 180.3,319.0 180.8,316.1 181.2,316.3 181.7,314.8 182.2,317.0 182.7,316.7 183.1,315.9 183.6,314.8 184.1,314.8 184.5,317.3 185.0,316.1 185.5,318.4 185.9,317.9 186.2,319.6 186.6,322.9 187.0,322.1 187.4,321.2 187.8,320.4 188.2,316.9 188.6,316.6 189.1,316.7 189.5,314.9 190.0,314.6 190.5,314.2 190.9,314.3 191.4,315.6 191.9,316.8 192.3,317.5 192.8,316.0 193.3,317.4 193.7,316.4 194.2,316.0 194.7,316.5 195.2,314.2 195.6,315.1 196.1,313.8 196.6,314.3 197.0,314.2 197.5,313.2 198.0,314.3 198.4,314.9 198.9,313.0 199.4,314.5 199.8,311.9 200.3,312.7 200.8,311.6 201.4,308.4 201.9,308.0 202.3,307.3 202.8,306.1 203.3,307.8 203.8,306.2 204.2,306.5 204.7,305.5 205.2,305.6 205.6,307.6 206.1,305.9 206.6,307.2 207.0,307.9 207.5,306.3 208.0,305.0 208.4,305.5 208.9,305.7 209.4,303.4 209.9,303.1 210.5,301.0 211.0,300.4 211.5,297.0 212.0,296.3 212.6,294.7 213.1,294.8 213.6,294.8 214.1,298.1 214.6,301.1 215.2,302.6 215.7,305.5 216.2,306.3 216.7,309.6 217.2,310.6 217.8,308.3 218.3,308.8 218.8,307.2 219.3,303.8 219.8,302.6 220.4,300.9 220.9,297.1 221.4,296.3 221.9,296.4 222.3,295.0 222.8,296.2 223.3,293.9 223.8,294.8 224.2,294.7 224.7,293.0 225.2,292.6 225.6,292.0 226.1,292.4 226.6,293.1 227.1,291.9 227.7,293.2 228.2,295.4 228.7,294.7 229.2,297.1 229.7,297.2 230.2,298.9 230.6,299.0 231.1,297.9 231.6,299.4 232.0,301.2 232.5,300.0 233.0,302.1 233.4,301.5 233.9,302.6 234.4,303.2 234.8,301.1 235.3,301.6 235.8,300.3 236.2,300.2 236.8,302.3 237.3,301.6 237.8,304.1 238.3,305.5 238.8,304.1 239.2,307.2 239.7,305.8 240.2,307.2 240.7,309.8 241.2,309.5 241.7,311.9 242.2,310.0 242.7,309.9 243.1,309.2 243.6,308.7 244.1,308.8 244.6,308.6 245.1,308.6 245.6,309.6 246.1,310.9 246.6,309.3 247.0,311.7 247.5,310.5 248.0,311.9 248.4,312.1 248.9,310.0 249.4,311.2 249.8,308.6 250.3,308.8 250.8,309.6 251.2,308.5 251.7,309.7 252.2,309.1 252.7,309.6 253.1,310.5 253.6,309.6 254.1,311.6 254.5,312.7 255.0,311.9 255.5,313.0 255.9,312.3 256.4,314.9 256.9,314.0 257.3,315.1 257.8,316.4 258.3,316.9 258.8,316.6 259.2,315.1 259.7,316.6 260.2,316.8 260.6,315.1 261.1,316.3 261.6,315.7 262.0,315.1 262.5,316.3 263.0,314.5 263.4,316.1 263.9,315.1 264.4,315.8 264.8,316.8 265.3,315.8 265.8,317.6 266.3,316.4 266.7,317.4 267.2,319.1 267.8,320.5 268.3,320.5 268.7,321.0 269.2,319.1 269.7,320.5 270.2,318.0 270.6,319.0 271.1,318.2 271.5,320.1 271.9,318.4 272.3,319.8 272.8,318.3 273.3,319.8 273.8,318.3 274.2,320.2 274.7,319.0 275.2,318.0 275.7,316.0 276.2,313.5 276.7,311.9 277.2,312.5 277.7,311.9 278.1,311.1 278.6,309.6 279.1,308.0 279.5,307.2 280.0,306.6 280.5,307.9 280.9,306.5 281.4,305.4 281.9,306.9 282.3,304.6 282.8,304.9 283.3,306.7 283.9,307.8 284.4,307.2 284.8,307.4 285.2,307.7 285.6,309.6 286.1,310.0 286.7,307.0 287.2,307.2 287.7,307.7 288.1,306.1 288.6,307.9 289.1,307.3 289.5,306.5 290.0,307.1 290.5,305.3 290.9,306.4 291.4,304.6 291.9,304.9 292.3,303.5 292.8,304.1 293.3,305.7 293.8,303.6 294.2,304.1 294.7,305.0 295.2,302.6 295.6,304.2 296.1,302.7 296.6,303.3 297.0,303.6 297.5,302.1 298.0,301.6 298.4,301.6 298.9,302.6 299.4,303.8 299.8,302.2 300.3,301.8 300.8,301.6 301.2,302.6 301.7,303.3 302.2,302.4 302.7,303.1 303.1,304.9 303.6,304.1 304.1,304.1 304.6,300.8 305.2,301.0 305.6,301.0 306.1,299.6 306.6,300.7 307.0,299.9 307.5,298.7 308.0,299.6 308.4,296.9 308.9,298.8 309.4,297.9 309.8,297.1 310.3,296.0 310.8,296.2 311.2,297.4 311.7,295.7 312.2,296.3 312.7,295.1 313.1,295.1 313.6,296.9 314.1,295.9 314.5,296.3 315.0,298.0 315.5,298.3 315.9,298.7 316.4,300.0 316.9,299.4 317.3,300.6 317.8,298.8 318.3,300.3 318.8,300.8 319.2,300.2 319.7,301.0 320.2,299.2 320.6,301.7 321.1,300.0 321.6,301.0 322.0,302.0 322.5,300.3 323.0,303.0 323.4,301.2 323.9,302.6 324.3,303.9 324.7,302.7 325.1,304.3 325.5,303.4 325.9,304.1 326.4,303.0 326.9,302.4 327.3,303.7 327.8,302.6 328.3,301.3 328.8,301.8 329.2,301.6 329.7,302.3 330.2,301.8 330.6,302.5 331.1,302.3 331.6,300.9 332.0,302.2 332.5,301.0 333.0,299.7 333.4,302.0 333.9,300.0 334.4,301.1 334.8,300.2 335.3,299.2 335.8,301.2 336.2,298.4 336.7,300.8 337.2,299.4 337.7,298.7 338.1,300.3 338.6,299.5 339.1,300.5 339.5,300.2 340.0,299.2 340.5,301.4 340.9,299.4 341.4,301.1 341.9,300.2 342.3,299.3 342.8,299.3 343.3,300.4 343.8,298.8 344.2,299.4 344.7,298.4 345.2,299.6 345.6,297.7 346.1,299.8 346.6,298.7 347.0,297.9 347.5,299.4 348.0,297.4 348.4,299.6 348.9,298.7 349.4,299.3 349.8,299.5 350.3,297.8 350.8,300.1 351.2,299.4 351.7,300.1 352.2,300.8 352.7,299.5 353.1,300.8 353.6,300.2 354.1,299.9 354.5,299.6 355.0,301.5 355.5,301.5 355.9,301.0 356.4,300.5 356.9,302.4 357.3,301.8 357.8,303.6 358.3,303.3 358.7,302.2 359.2,304.2 359.7,301.8 360.2,302.2 360.6,302.6 361.1,302.8 361.5,305.9 362.0,305.3 362.4,308.1 362.9,306.8 363.3,309.9 363.8,310.3 364.3,312.3 364.8,315.7 365.3,317.3 365.8,314.0 366.4,312.6 366.9,308.8 367.4,310.2 368.0,313.4 368.5,313.6 369.0,314.7 369.5,316.6 370.0,319.3 370.6,319.8 371.1,322.8 371.6,324.0 372.1,325.7 372.7,328.3 373.2,330.0 373.7,328.8 374.2,330.6 374.8,333.8 375.3,336.1 375.7,333.0 376.1,331.9 376.6,330.6 377.1,328.9 377.6,330.0 378.1,328.3 378.5,328.2 379.0,329.9 379.4,331.4 379.7,328.1 380.1,327.2 380.5,323.6 381.0,322.1 381.5,323.8 382.0,322.8 382.4,321.7 382.8,322.3 383.2,322.7 383.7,324.6 384.1,323.6 384.5,322.0 385.0,322.9 385.5,320.5 385.9,321.2 386.4,319.9 386.9,319.4 387.3,320.1 387.8,317.6 388.3,318.1 388.7,318.5 389.1,316.8 389.5,317.9 389.9,317.4 390.3,316.6 390.7,317.3 391.2,315.2 391.6,316.0 392.1,314.9 392.5,315.0 392.9,315.3 393.3,313.6 393.7,314.9 394.1,314.9 394.5,314.2 395.0,315.3 395.5,314.3 395.9,314.0 396.4,314.2 396.9,315.3 397.3,315.5 397.8,314.3 398.3,315.5 398.8,314.7 399.2,315.2 399.6,317.3 400.0,318.1 400.5,316.6 401.0,316.8 401.6,314.7 402.0,313.6 402.5,316.0 403.0,314.3 403.4,316.2 403.9,315.0 404.4,313.7 404.8,315.0 405.3,313.2 405.8,314.4 406.2,312.7 406.7,311.6 407.2,313.5 407.7,311.5 408.1,311.3 408.6,311.6 409.1,310.9 409.5,310.3 410.0,310.3 410.5,311.6 410.9,310.6 411.4,309.3 411.9,311.8 412.3,309.5 412.8,309.8 413.3,310.3 413.7,309.8 414.1,311.5 414.5,310.4 414.9,312.6 415.3,311.6 415.8,313.4 416.4,315.1 416.9,315.8 417.3,314.8 417.8,313.9 418.3,313.5 418.8,313.4 419.2,314.8 419.7,313.8 420.2,314.2 420.6,314.2 421.1,315.8 421.6,316.7 422.0,313.8 422.5,315.3 423.0,313.5 423.4,314.2 423.9,312.8 424.4,313.2 424.8,314.2 425.3,314.1 425.8,313.4 426.2,314.3 426.7,312.5 427.2,312.3 427.7,312.8 428.1,313.8 428.6,314.6 429.1,313.0 429.5,315.5 430.0,315.6 430.5,315.0 430.9,316.6 431.3,314.8 431.7,317.6 432.1,316.2 432.5,317.3 433.0,318.3 433.4,319.2 433.9,319.8 434.4,319.7 434.8,318.4 435.3,320.3 435.8,318.3 436.3,319.2 436.7,318.4 437.2,317.5 437.7,319.1 438.1,317.6 438.6,319.0 439.1,317.8 439.5,316.5 440.0,318.2 440.5,315.8 440.9,316.9 441.4,318.3 441.9,316.0 442.3,317.7 442.8,318.1 443.3,317.3 443.7,318.1 444.2,316.8 444.7,317.9 445.2,319.9 445.6,318.9 446.1,319.1 446.6,317.5 447.0,319.1 447.5,317.8 448.0,316.4 448.5,316.6 449.1,315.0 449.6,313.8 450.1,315.3 450.6,314.2 451.0,313.2 451.4,316.1 451.8,313.9 452.3,316.5 452.7,315.8 453.1,315.0 453.6,316.4 454.1,314.9 454.5,317.5 455.0,316.2 455.5,315.0 455.9,316.6 456.4,316.8 456.9,316.4 457.3,315.8 457.8,314.9 458.3,317.2 458.8,315.1 459.2,317.1 459.7,316.6 460.2,317.4 460.6,317.5 461.1,317.7 461.6,316.3 462.0,316.9 462.5,317.1 463.0,315.7 463.4,315.8 463.9,317.2 464.4,315.8 464.8,314.8 465.3,316.4 465.8,316.5 466.3,314.5 466.7,315.0 467.2,314.1 467.7,316.3 468.1,316.5 468.6,316.8 469.1,315.8 469.5,314.4 470.0,316.1 470.5,315.7 470.9,315.0 471.3,314.9 471.8,315.3 472.2,315.4 472.6,317.1 473.0,316.9 473.4,315.9 473.8,316.4 474.2,317.2 474.6,316.6 475.0,318.1 475.5,319.7 475.9,318.9 476.4,319.4 476.9,320.5 477.3,319.1 477.8,320.8 478.3,318.7 478.8,318.9 479.2,319.3 479.6,319.2 480.0,318.5 480.4,315.8 480.8,316.6 481.2,316.7 481.6,314.8 482.0,316.5 482.4,314.4 482.8,314.7 483.3,315.6 483.8,312.9 484.2,315.0 484.7,313.8 485.2,312.8 485.6,314.6 486.1,313.2 486.6,314.2 487.1,316.3 487.6,317.4 488.1,317.3 488.5,318.3 488.9,318.6 489.3,318.4 489.8,316.4 490.2,317.8 490.7,317.9 491.2,315.7 491.7,315.8 492.2,314.2 492.8,314.3 493.3,315.0 493.8,317.5 494.4,318.1 494.8,320.5 495.2,320.7 495.6,323.6 496.1,322.3 496.7,321.6 497.2,322.0 497.7,321.4 498.2,322.1 498.8,321.2 499.3,319.5 499.8,321.3 500.3,319.7 500.8,318.9 501.4,319.6 501.9,318.9 502.3,319.4 502.7,322.6 503.1,322.8 503.6,322.0 504.2,322.9 504.7,324.4 505.2,324.7 505.7,322.5 506.2,323.6 506.8,323.9 507.3,324.7 507.8,326.7 508.3,324.5 508.9,326.0 509.4,323.6 509.9,323.9 510.4,323.2 510.9,322.0 511.5,321.8 512.0,325.1 512.5,325.2 513.0,325.1 513.4,326.8 513.9,327.3 514.4,326.7 514.8,327.9 515.3,326.2 515.8,328.6 516.2,327.5 516.7,326.0 517.1,327.4 517.5,324.9 517.9,325.8 518.3,324.4 518.7,323.2 519.1,324.3 519.5,323.0 519.9,322.6 520.3,322.8 520.8,321.5 521.2,323.7 521.7,321.1 522.2,322.0 522.7,323.0 523.1,321.9 523.6,323.8 524.1,323.6 524.5,322.5 524.9,323.6 525.3,322.1 525.7,322.9 526.1,322.0 526.5,320.8 526.9,322.5 527.3,320.1 527.7,321.8 528.1,320.5 528.6,319.3 529.1,321.0 529.5,319.4 530.0,320.5 530.0,321.0 530.5,322.5 530.9,320.3 531.4,322.4 531.9,321.2 532.3,322.2 532.7,321.4 533.2,321.5 533.6,321.4 534.0,322.1 534.4,322.9 534.8,323.6 535.3,322.5 535.8,323.7 536.2,323.3 536.7,323.4 537.2,324.8 537.7,323.7 538.1,325.4 538.6,325.0 539.2,322.2 539.7,322.6 540.1,321.3 540.5,321.9 540.9,323.7 541.3,322.0 541.7,322.9 542.1,323.8 542.5,322.6 542.9,324.3 543.3,325.1 543.8,324.1 544.3,326.1 544.8,325.3 545.3,326.5 545.8,327.1 546.2,326.1 546.7,326.3 547.2,324.9 547.7,323.8 548.1,325.3 548.6,323.3 549.1,324.4 549.5,323.4 549.9,322.9 550.3,321.7 550.7,323.5 551.1,321.8 551.6,322.1 552.1,319.7 552.7,319.8 553.2,320.9 553.7,320.6 554.2,321.8 554.7,323.0 555.3,324.4 555.8,324.1 556.3,325.8 556.8,324.6 557.3,326.5 557.9,326.6 558.4,329.1 559.0,327.8 559.5,329.3 560.0,328.0 560.5,327.6 561.0,325.3 561.6,324.9 562.0,323.8 562.4,325.7 562.8,323.5 563.2,325.0 563.6,324.1 564.0,323.9 564.4,325.4 564.8,323.9 565.2,323.8 565.6,324.9 566.1,324.8 566.7,327.6 567.2,327.2 567.7,329.2 568.1,333.5 568.3,336.9 568.5,338.1 568.8,341.3 569.3,343.3 569.8,343.7 570.4,342.2 570.9,342.9 571.2,341.1 571.6,336.6 572.0,335.1 572.5,335.9 573.0,334.3 573.4,332.9 573.8,335.1 574.2,333.3 574.6,335.0 575.0,333.5 575.5,333.9 575.9,334.0 576.4,333.8 576.9,332.2 577.3,332.6 577.8,333.1 578.3,332.7 578.8,331.6 579.2,330.7 579.6,329.6 580.0,327.2 580.5,326.3 580.9,327.5 581.4,326.3 581.9,326.5 582.3,326.7 582.7,323.7 583.1,324.1 583.5,323.8 584.0,321.4 584.4,321.0 584.8,321.6 585.2,319.0 585.6,319.1 586.1,321.0 586.6,320.2 587.0,321.8 587.4,322.9 587.8,322.9 588.2,322.8 588.7,322.3 589.1,322.9 589.5,323.6 589.9,321.5 590.4,322.0 590.8,321.8 591.2,322.2 591.7,323.8 592.1,322.4 592.5,322.2 592.9,325.3 593.3,324.4 593.7,325.6 594.1,325.1 594.5,325.6 594.9,323.9 595.3,324.9 595.8,325.2 596.2,324.3 596.7,325.0 597.2,324.4 597.7,323.6 598.1,324.9 598.6,322.6 599.1,322.9 599.6,324.7 600.1,322.9 600.6,324.9 601.1,326.2 601.7,326.9 602.2,327.2 602.6,327.3 603.0,328.8 603.4,331.2 603.9,330.6 604.3,331.4 604.7,333.5 605.2,334.6 605.7,334.3 606.2,333.2 606.8,335.4 607.3,335.8 607.9,336.6 608.4,337.8 608.9,336.9 609.4,335.0 610.0,337.0 610.5,335.1 611.0,335.5 611.5,338.0 612.0,337.9 612.5,337.5 613.1,337.6 613.6,339.0 614.1,339.0 614.7,336.6 615.1,338.9 615.5,339.0 615.9,341.3 616.4,343.0 616.8,345.1 617.2,345.2 617.7,345.6 618.2,344.8 618.8,343.7 619.3,345.3 619.8,345.7 620.4,347.1 620.9,346.3" fill="none" stroke="#a5a5a5" stroke-width="2.7" stroke-linejoin="miter" stroke-miterlimit="2.5" stroke-linecap="round"/>
<polyline points="38.5,333.4 39.0,333.6 39.4,332.9 39.9,331.4 40.3,329.6 40.8,328.9 41.3,327.3 41.8,324.6 42.2,323.5 42.6,323.9 43.0,323.6 43.5,325.2 43.9,327.5 44.3,327.1 44.7,329.6 45.1,331.3 45.6,329.5 46.0,331.6 46.4,333.5 46.8,331.0 47.2,333.4 47.7,335.2 48.1,334.6 48.5,336.6 48.9,338.0 49.4,336.8 49.8,337.9 50.2,338.5 50.6,336.4 51.0,334.1 51.5,333.4 51.9,332.8 52.3,330.3 52.7,330.1 53.1,327.1 53.6,326.5 54.0,325.7 54.4,326.9 54.8,329.0 55.2,330.9 55.7,330.0 56.1,332.8 56.5,333.1 56.9,333.2 57.3,335.3 57.8,337.7 58.2,335.2 58.6,337.2 59.0,338.3 59.4,335.8 59.9,336.6 60.3,339.0 60.7,336.4 61.1,339.1 61.6,341.4 62.0,338.3 62.4,340.4 62.9,338.6 63.3,338.1 63.8,340.7 64.3,339.1 64.8,336.7 65.2,339.3 65.7,335.3 66.2,336.0 66.6,337.0 67.0,335.9 67.4,337.2 67.9,334.8 68.3,334.9 68.7,335.3 69.1,336.9 69.5,334.9 70.0,336.6 70.4,338.8 70.8,339.1 71.2,339.1 71.8,335.3 72.3,334.2 72.7,331.0 73.1,330.3 73.6,328.7 74.1,330.6 74.5,329.5 75.0,327.1 75.4,328.2 75.8,324.6 76.3,325.9 76.7,324.5 77.2,328.7 77.7,325.5 78.2,327.8 78.6,329.8 79.1,327.5 79.6,329.8 80.1,329.6 80.5,328.7 80.9,332.2 81.3,330.4 81.7,332.8 82.2,334.2 82.7,333.7 83.2,335.3 83.6,335.4 84.0,330.6 84.5,330.3 84.9,330.1 85.3,326.3 85.7,325.2 86.2,324.5 86.6,320.5 87.0,320.2 87.4,320.1 87.8,316.0 88.3,315.1 88.7,315.3 89.1,313.0 89.5,313.2 90.0,315.0 90.5,313.3 90.9,313.0 91.4,314.5 91.8,317.2 92.3,319.0 92.7,318.9 93.1,318.6 93.5,322.0 93.9,322.1 94.3,324.0 94.6,328.0 94.9,327.8 95.2,331.6 95.6,331.8 96.0,329.6 96.5,326.5 96.9,322.8 97.3,323.2 97.7,320.2 98.1,320.7 98.6,319.2 99.0,317.7 99.4,317.8 99.8,315.8 100.2,313.9 100.7,315.3 101.1,312.0 101.5,312.6 101.9,316.0 102.3,314.6 102.8,317.7 103.2,319.3 103.6,317.7 104.1,320.2 104.5,318.8 104.9,321.7 105.4,320.2 105.8,322.6 106.2,321.8 106.7,320.3 107.2,324.3 107.7,321.6 108.1,324.1 108.6,323.3 109.1,323.5 109.6,326.9 110.2,326.5 110.7,324.2 111.2,326.2 111.7,324.1 112.2,321.3 112.8,323.0 113.3,321.0 113.8,318.7 114.3,320.8 114.8,317.9 115.2,313.7 115.6,311.6 116.1,312.8 116.6,310.5 117.0,312.6 117.5,309.6 118.0,310.1 118.4,310.5 118.9,307.6 119.4,310.1 119.8,307.0 120.3,307.7 120.8,306.7 121.4,305.5 121.9,302.2 122.4,299.9 122.9,298.2 123.4,299.1 124.0,297.8 124.5,296.9 125.0,297.7 125.4,299.2 125.9,296.2 126.3,298.7 126.8,297.7 127.2,297.3 127.7,295.5 128.1,296.2 128.6,296.4 129.0,294.6 129.5,296.5 129.9,296.7 130.4,296.2 130.8,292.2 131.2,293.8 131.8,294.7 132.3,293.4 132.8,291.5 133.3,289.9 133.8,290.1 134.2,292.0 134.7,289.2 135.2,290.7 135.6,291.1 136.1,288.9 136.6,288.7 137.0,290.9 137.5,289.1 138.0,289.0 138.4,283.5 138.9,285.1 139.4,281.3 139.9,282.8 140.4,286.2 140.9,287.6 141.5,287.3 142.0,290.7 142.5,290.7 142.9,289.5 143.3,291.0 143.7,287.7 144.1,289.4 144.5,287.6 145.0,286.5 145.5,288.9 145.9,285.4 146.4,285.3 146.9,286.8 147.3,285.8 147.8,287.3 148.3,283.6 148.8,286.3 149.2,284.4 149.7,282.0 150.2,282.5 150.6,281.3 151.1,283.2 151.6,281.3 152.1,279.0 152.6,278.8 153.1,276.6 153.6,277.8 154.1,277.5 154.5,277.1 155.0,276.6 155.5,275.1 155.9,273.5 156.4,275.1 156.9,271.7 157.3,270.2 157.8,271.2 158.3,271.9 158.9,268.2 159.4,268.5 159.9,268.5 160.4,272.0 160.9,271.2 161.5,270.2 162.0,272.0 162.5,273.5 163.0,271.3 163.5,273.8 164.1,272.7 164.6,270.0 165.1,271.3 165.6,269.6 166.1,267.4 166.7,266.4 167.2,266.5 167.7,264.0 168.2,265.2 168.8,263.3 169.3,263.3 169.8,265.6 170.3,264.9 170.8,263.4 171.2,263.4 171.7,262.1 172.2,264.7 172.7,263.3 173.1,262.8 173.6,266.0 174.1,264.4 174.5,267.4 175.0,266.5 175.4,268.2 175.8,269.5 176.2,268.8 176.7,269.7 177.2,269.0 177.7,265.1 178.1,265.7 178.6,263.6 179.1,265.2 179.5,263.0 180.0,261.5 180.5,262.6 180.9,261.1 181.4,259.9 181.9,258.7 182.3,258.1 182.8,259.4 183.3,261.4 183.9,258.3 184.4,260.2 184.8,262.6 185.2,260.9 185.6,264.1 186.0,268.0 186.4,271.7 186.7,275.4 187.1,275.8 187.5,279.8 187.9,283.7 188.2,284.4 188.6,289.1 188.7,290.8 188.9,294.1 189.1,298.6 189.2,300.8 189.4,296.5 189.5,292.5 189.7,289.9 189.8,287.6 190.3,283.3 190.8,281.4 191.2,279.8 191.7,279.2 192.1,275.6 192.5,275.8 193.0,274.6 193.4,274.5 193.9,276.4 194.4,275.8 194.8,274.3 195.3,275.2 195.8,272.7 196.2,271.8 196.7,271.9 197.2,272.7 197.7,276.9 198.2,276.5 198.8,281.3 199.2,283.1 199.6,280.0 200.0,282.1 200.5,281.6 200.9,276.7 201.4,278.7 201.9,275.1 202.3,273.6 202.8,277.2 203.3,274.4 203.8,277.6 204.2,275.8 204.7,276.0 205.3,279.1 205.8,279.0 206.2,277.9 206.7,277.1 207.2,280.4 207.7,279.4 208.1,278.2 208.6,276.9 209.1,278.9 209.5,276.4 210.0,278.8 210.5,276.6 211.0,271.9 211.5,271.8 212.0,267.2 212.6,263.3 213.1,261.9 213.6,261.0 214.1,260.0 214.7,260.2 215.0,263.7 215.3,265.3 215.6,270.6 215.9,271.9 216.1,273.4 216.3,279.1 216.5,279.8 216.7,284.4 217.1,288.9 217.5,290.7 217.7,286.2 217.9,287.1 218.1,280.8 218.3,279.8 218.8,275.7 219.3,273.9 219.8,271.9 220.4,270.3 220.9,264.8 221.4,262.6 221.9,259.9 222.4,259.3 223.0,259.4 223.5,258.5 224.0,253.2 224.5,251.6 225.1,250.4 225.6,246.2 226.0,246.7 226.5,251.4 226.9,251.6 227.4,252.8 227.9,254.0 228.4,253.2 228.8,254.1 229.1,259.5 229.4,260.0 229.7,264.1 230.2,266.1 230.7,265.4 231.2,267.2 231.7,265.4 232.2,267.6 232.7,267.5 233.1,265.7 233.6,264.0 234.1,267.0 234.5,264.5 235.0,264.9 235.5,266.5 236.0,267.5 236.5,272.5 237.0,273.5 237.6,274.0 238.1,277.4 238.5,276.4 239.0,271.5 239.4,271.2 239.9,272.9 240.4,270.9 240.9,273.5 241.5,275.3 242.0,275.0 242.5,276.6 243.0,273.1 243.5,270.8 244.1,270.4 244.6,270.7 245.1,270.7 245.6,269.6 246.1,269.0 246.7,269.4 247.2,271.2 247.7,271.4 248.2,270.4 248.8,268.8 249.2,269.0 249.7,266.9 250.2,268.6 250.6,266.4 251.1,266.5 251.6,269.4 252.1,267.2 252.7,269.6 253.2,271.6 253.7,273.2 254.2,272.7 254.7,276.3 255.3,275.5 255.8,279.8 256.3,281.8 256.8,281.1 257.3,282.9 257.9,284.1 258.4,286.2 258.9,289.1 259.5,293.0 260.0,295.4 260.3,291.3 260.6,291.3 260.9,287.6 261.4,286.7 261.9,288.2 262.3,285.9 262.8,286.8 263.3,288.6 263.8,285.7 264.2,286.7 264.7,285.8 265.2,287.6 265.7,287.7 266.2,287.6 266.7,289.9 267.2,286.8 267.8,285.8 268.3,286.0 268.8,282.9 269.3,281.3 269.8,279.8 270.4,279.3 270.9,276.2 271.4,276.6 271.8,278.5 272.3,276.7 272.7,278.7 273.1,280.5 273.6,282.7 274.1,283.0 274.5,282.3 275.0,282.1 275.3,279.7 275.6,275.1 275.9,274.9 276.2,270.4 276.8,269.8 277.3,268.7 277.8,266.5 278.3,263.7 278.9,265.6 279.4,262.6 279.8,261.1 280.3,262.7 280.8,260.1 281.3,260.6 281.7,259.4 282.2,258.6 282.8,262.8 283.3,262.6 283.8,262.2 284.3,266.1 284.8,265.7 285.4,262.8 285.9,260.8 286.4,259.4 286.9,258.1 287.3,258.9 287.8,260.6 288.3,259.5 288.8,260.2 289.3,260.0 289.8,263.6 290.3,263.3 290.8,265.4 291.2,266.3 291.7,265.4 292.2,267.2 292.6,267.1 293.0,267.4 293.4,265.5 293.8,262.5 294.2,263.3 294.7,263.3 295.2,260.2 295.6,261.8 296.1,258.4 296.6,259.4 297.0,259.6 297.5,257.1 298.0,259.5 298.4,256.2 298.9,257.1 299.4,257.4 299.8,257.8 300.3,257.3 300.8,254.3 301.2,255.5 301.7,257.8 302.2,255.0 302.7,255.0 303.1,257.7 303.6,257.1 304.1,257.7 304.5,255.9 305.0,257.5 305.5,255.6 305.9,256.3 306.4,257.5 306.9,254.0 307.3,256.0 307.8,252.5 308.3,253.2 308.7,254.7 309.1,253.5 309.5,256.4 309.9,254.3 310.3,255.5 310.8,254.8 311.4,255.8 311.9,257.1 312.4,256.7 312.9,253.7 313.4,250.8 313.9,251.1 314.4,249.2 314.8,250.4 315.3,248.8 315.8,249.0 316.4,252.2 316.9,251.6 317.3,250.7 317.8,252.2 318.3,250.3 318.8,251.8 319.2,250.8 319.7,248.8 320.2,251.9 320.6,249.0 321.1,251.6 321.6,250.1 322.1,249.6 322.6,252.1 323.1,254.0 323.6,256.0 324.1,256.0 324.5,257.0 325.0,256.4 325.5,256.3 325.9,254.9 326.4,257.3 326.9,254.6 327.3,257.0 327.8,255.5 328.3,254.5 328.8,258.3 329.2,255.6 329.7,258.2 330.2,257.9 330.6,256.2 331.1,258.5 331.6,255.8 332.0,258.0 332.5,256.3 333.0,256.3 333.4,256.0 333.9,257.1 334.4,259.8 334.8,258.7 335.3,257.3 335.8,259.6 336.2,256.3 336.7,258.9 337.2,257.9 337.7,256.5 338.1,258.8 338.6,255.2 339.1,257.6 339.5,256.3 340.0,255.5 340.5,257.0 340.9,255.1 341.4,257.5 341.9,255.5 342.3,254.2 342.8,255.5 343.3,253.9 343.8,255.6 344.2,254.0 344.7,255.0 345.2,255.7 345.6,253.0 346.1,253.6 346.6,255.5 347.0,254.7 347.5,256.8 348.0,257.8 348.4,257.9 348.9,256.3 349.4,255.0 349.8,257.3 350.3,257.5 350.8,257.6 351.2,257.1 351.7,256.5 352.2,259.6 352.7,257.6 353.1,260.5 353.6,260.2 354.1,258.2 354.6,257.1 355.2,257.9 355.7,257.7 356.2,261.4 356.7,261.8 357.3,261.6 357.8,264.1 358.2,262.8 358.6,261.3 359.1,257.9 359.6,257.8 360.1,255.4 360.6,255.5 361.1,257.8 361.7,257.1 362.2,259.2 362.7,259.7 363.2,257.4 363.8,258.4 364.2,257.8 364.6,252.9 365.0,252.2 365.4,257.0 365.8,257.6 366.2,261.6 366.7,256.7 367.2,255.3 367.7,256.4 368.1,260.0 368.4,264.3 368.7,266.6 369.1,267.8 369.4,272.1 369.7,274.6 370.0,277.2 370.4,281.7 370.7,281.0 371.1,285.0 371.6,288.7 372.2,291.2 372.7,292.8 373.1,297.5 373.7,295.0 374.2,291.2 374.7,288.1 375.3,284.7 375.8,283.4 376.3,280.1 376.8,280.6 377.3,277.2 377.9,273.7 378.4,274.4 378.9,270.9 379.3,268.3 379.7,267.7 380.2,264.7 380.7,259.6 381.2,258.4 381.8,255.8 382.3,256.2 382.8,256.1 383.3,257.8 383.8,256.6 384.2,259.6 384.7,258.4 385.2,257.4 385.7,260.6 386.2,260.8 386.8,258.2 387.3,258.9 387.8,255.3 388.3,254.0 388.9,255.6 389.4,253.8 389.9,253.7 390.4,256.5 390.9,256.9 391.5,254.4 392.0,256.4 392.5,255.3 393.0,255.6 393.5,255.9 394.1,258.4 394.6,259.3 395.1,262.8 395.6,263.1 396.1,261.8 396.7,265.0 397.2,264.7 397.7,261.3 398.2,262.5 398.8,260.0 399.3,259.1 399.8,262.9 400.3,261.6 400.7,262.1 401.1,262.2 401.5,260.6 401.9,257.5 402.3,258.4 402.7,256.8 403.2,258.0 403.6,255.3 404.0,257.7 404.4,255.3 404.8,255.1 405.3,257.4 405.8,255.8 406.2,256.9 406.7,254.5 407.2,253.9 407.7,256.5 408.1,254.5 408.5,252.6 408.9,254.8 409.3,252.0 409.8,252.0 410.2,252.2 410.7,250.7 411.2,253.0 411.7,251.4 412.2,251.1 412.8,253.9 413.3,253.0 413.8,251.4 414.3,252.5 414.8,251.4 415.4,253.0 415.9,256.9 416.3,260.1 416.6,262.6 416.9,264.7 417.2,268.5 417.6,268.8 418.0,272.5 418.5,273.2 419.0,270.4 419.5,270.2 420.0,271.0 420.6,267.3 421.1,267.8 421.6,267.7 422.1,264.2 422.7,264.7 423.2,263.1 423.7,263.5 424.2,265.5 424.7,263.6 425.3,263.4 425.8,261.6 426.3,262.6 426.8,259.1 427.3,260.0 427.9,259.7 428.4,259.9 428.9,262.3 429.4,264.3 430.0,263.4 430.5,266.2 431.0,268.4 431.5,266.5 432.0,268.6 432.5,267.9 433.0,268.2 433.4,270.7 433.9,268.5 434.4,269.4 434.8,270.4 435.3,267.0 435.8,269.2 436.3,267.4 436.7,267.8 437.2,269.1 437.7,270.3 438.1,270.6 438.6,269.8 439.1,269.4 439.5,269.2 439.9,266.1 440.4,267.3 440.8,263.9 441.3,266.1 441.7,263.5 442.2,261.9 442.7,262.6 443.1,264.8 443.6,264.3 444.1,262.7 444.5,262.0 445.0,264.5 445.5,262.5 445.9,264.9 446.4,263.5 446.9,261.3 447.5,261.9 448.0,259.6 448.5,256.0 449.1,254.1 449.5,253.7 449.9,251.2 450.3,251.0 450.8,251.9 451.4,249.9 451.9,250.2 452.4,252.3 452.9,251.0 453.4,252.6 454.0,250.1 454.5,251.3 455.0,247.9 455.5,248.6 456.0,245.6 456.6,246.3 457.1,247.3 457.6,243.4 458.1,244.0 458.6,245.4 459.2,242.9 459.7,243.2 460.2,243.3 460.7,240.6 461.2,240.8 461.7,241.6 462.1,237.6 462.5,237.7 463.0,240.1 463.6,244.8 464.1,243.9 464.6,244.4 465.2,245.5 465.7,245.9 466.2,244.4 466.7,242.4 467.2,242.9 467.8,245.8 468.3,245.5 468.8,243.5 469.3,245.1 469.8,244.0 470.4,246.4 470.9,244.7 471.4,246.3 471.9,247.4 472.5,246.4 473.0,247.9 473.5,246.3 474.0,249.4 474.5,248.7 475.0,248.4 475.6,249.2 476.1,251.0 476.6,250.0 477.1,248.7 477.7,246.3 478.2,242.8 478.8,240.8 479.3,238.7 479.8,240.3 480.3,238.5 480.7,236.8 481.1,236.3 481.5,238.9 481.9,236.9 482.3,237.7 482.8,238.5 483.3,235.8 483.8,238.8 484.2,238.6 484.7,237.7 485.2,237.3 485.7,239.7 486.2,239.3 486.8,242.0 487.3,240.0 487.8,242.4 488.3,245.0 488.9,245.7 489.4,244.8 489.8,244.6 490.2,241.0 490.6,240.8 491.2,238.2 491.7,238.5 492.3,239.6 492.8,242.4 493.2,245.4 493.6,243.1 494.1,246.3 494.5,248.1 494.9,249.8 495.3,249.4 495.9,252.1 496.4,251.8 497.0,249.7 497.5,246.3 497.9,246.4 498.3,243.2 498.8,244.0 499.2,245.9 499.6,244.8 500.0,247.1 500.5,249.8 501.1,249.4 501.6,251.1 502.2,254.9 502.6,256.6 503.0,253.7 503.4,254.1 504.0,254.4 504.5,253.4 505.0,251.8 505.5,252.7 506.0,251.6 506.6,252.6 507.1,253.1 507.6,249.6 508.1,249.4 508.5,248.3 508.9,243.2 509.5,240.3 510.0,240.1 510.4,242.1 510.8,239.6 511.2,240.8 511.8,242.9 512.3,240.5 512.8,243.2 513.3,243.8 513.9,240.8 514.4,240.8 514.9,241.2 515.4,238.7 515.9,240.1 516.5,242.0 517.0,240.5 517.5,241.6 518.0,242.8 518.5,242.7 519.1,242.4 519.6,242.2 520.1,239.5 520.6,239.3 521.1,241.3 521.7,239.4 522.2,241.6 522.7,243.8 523.2,243.2 523.8,245.5 524.2,244.4 524.6,240.6 525.0,240.1 525.5,238.3 526.1,235.4 526.6,235.1 527.1,234.8 527.7,232.2 528.2,229.9 528.7,231.5 529.2,229.9 529.6,228.2 530.0,229.1 530.0,229.8 530.5,228.7 530.9,228.7 531.4,231.2 531.9,229.3 532.3,231.3 532.9,231.7 533.4,228.9 533.9,230.5 534.4,230.1 535.0,224.4 535.5,223.5 536.0,226.0 536.5,224.3 537.0,227.4 537.5,224.6 538.1,224.2 538.6,224.3 539.1,224.0 539.6,226.4 540.2,225.1 540.6,225.7 541.0,222.9 541.4,222.3 541.8,224.8 542.2,222.7 542.7,226.3 543.2,225.1 543.8,228.2 544.3,232.3 544.8,232.9 545.4,230.9 545.9,231.3 546.4,233.4 546.8,232.5 547.2,236.0 547.7,234.6 548.2,233.9 548.8,235.2 549.3,235.5 549.8,232.5 550.3,232.9 550.8,233.5 551.2,234.4 551.7,233.8 552.2,231.0 552.7,232.9 553.2,236.3 553.7,234.2 554.2,237.6 554.7,236.4 555.3,238.3 555.8,239.9 556.3,239.8 556.8,235.9 557.3,236.0 557.9,237.4 558.4,235.5 558.9,237.6 559.4,237.3 560.0,236.2 560.5,232.9 561.0,231.5 561.6,228.2 562.1,229.3 562.6,227.9 563.1,226.6 563.5,225.2 563.9,227.6 564.3,224.4 564.8,227.5 565.2,225.8 565.7,228.7 566.2,229.0 566.7,232.7 567.2,234.4 567.5,236.8 567.7,241.8 568.0,243.8 568.1,245.6 568.2,251.3 568.4,250.5 568.5,255.5 568.6,257.0 568.8,260.5 569.0,258.8 569.2,253.6 569.4,253.8 569.6,250.0 570.0,246.0 570.3,243.8 570.9,243.6 571.4,239.9 571.9,237.1 572.5,236.3 573.0,236.8 573.5,235.6 574.0,237.6 574.5,236.0 575.0,234.0 575.6,236.7 576.1,234.4 576.6,235.6 577.1,236.2 577.7,235.2 578.0,231.2 578.4,230.1 578.8,226.6 579.2,222.1 579.7,220.4 580.3,216.5 580.7,217.8 581.1,217.7 581.6,217.2 582.0,217.3 582.4,214.0 582.8,213.3 583.4,211.4 583.9,207.9 584.3,204.5 584.7,204.0 585.2,203.7 585.7,203.9 586.2,204.8 586.8,205.5 587.3,201.5 587.8,202.4 588.3,202.5 588.9,202.0 589.4,199.3 589.8,201.6 590.2,200.2 590.6,201.6 591.2,201.2 591.7,204.0 592.2,202.6 592.8,204.4 593.3,203.2 593.8,203.4 594.4,200.8 594.8,200.2 595.2,196.3 595.6,196.9 596.0,197.3 596.5,193.7 596.9,193.5 597.4,195.4 597.9,192.1 598.4,193.8 599.0,195.7 599.5,194.7 600.0,196.2 600.5,197.2 601.1,200.8 601.6,202.4 602.2,206.3 602.6,208.3 603.0,207.1 603.4,209.4 603.9,213.1 604.3,212.0 604.7,214.9 605.2,214.5 605.7,215.6 606.2,218.0 606.8,219.5 607.3,218.1 607.8,219.6 608.4,221.1 608.9,224.3 609.5,225.0 610.0,227.4 610.4,230.2 610.8,228.4 611.2,231.3 611.7,233.4 612.1,232.7 612.5,236.0 612.9,239.4 613.2,239.6 613.6,243.8 614.0,245.4 614.3,249.8 614.7,251.6 615.1,252.2 615.5,254.6 615.9,257.9 616.4,260.2 616.8,259.1 617.2,262.6 617.7,258.7 618.3,256.3 618.8,254.9 619.4,251.6 619.7,254.9 620.0,255.4 620.3,259.4 620.4,263.2 620.4,264.4 620.5,270.0 620.6,270.6 620.6,275.1 620.6,279.5 620.6,280.1 620.6,285.9 620.6,286.2 620.6,292.3 620.6,292.7 620.6,296.9" fill="none" stroke="#ffc000" stroke-width="2.7" stroke-linejoin="miter" stroke-miterlimit="2.5" stroke-linecap="round"/>
<polyline points="38.5,333.8 38.8,334.1 39.1,331.0 39.4,330.9 39.7,331.0 40.0,329.5 40.3,330.3 40.6,326.9 40.8,327.8 41.1,322.8 41.3,323.5 41.6,320.2 41.9,318.9 42.2,320.0 42.6,317.7 42.9,317.5 43.3,321.3 43.6,321.4 43.7,321.8 43.9,326.0 44.0,327.1 44.2,331.1 44.4,331.6 44.7,331.9 45.0,335.5 45.3,335.1 45.6,337.9 45.9,339.7 46.2,339.5 46.6,342.1 46.9,342.9 47.2,342.5 47.5,343.4 47.8,344.0 48.1,346.4 48.4,344.1 48.8,343.8 49.1,345.2 49.4,342.9 49.7,340.0 50.0,339.3 50.3,337.5 50.7,336.6 51.0,337.0 51.3,332.8 51.6,334.0 51.9,331.6 52.3,328.6 52.6,326.3 52.9,325.2 53.2,321.6 53.4,321.3 53.7,317.6 53.9,316.4 54.2,317.0 54.5,313.5 54.8,314.1 55.1,317.1 55.4,316.5 55.7,318.9 56.0,320.2 56.4,319.4 56.7,320.8 57.0,321.0 57.3,318.6 57.7,321.0 58.0,319.6 58.3,321.8 58.6,323.0 58.9,321.6 59.2,323.3 59.5,325.7 59.8,323.9 60.1,326.4 60.4,325.5 60.8,327.1 61.1,328.3 61.4,326.5 61.7,328.1 62.1,330.4 62.4,329.6 62.7,331.0 63.0,330.5 63.3,331.0 63.6,328.7 64.0,330.7 64.3,330.3 64.6,328.6 64.9,329.2 65.2,326.9 65.5,327.9 65.8,326.5 66.1,325.2 66.4,326.4 66.7,325.2 67.1,324.0 67.4,325.6 67.7,323.2 68.0,326.3 68.4,326.5 68.7,325.2 69.0,326.3 69.3,324.5 69.6,324.2 70.0,324.6 70.2,328.0 70.4,330.0 70.6,329.7 70.8,332.2 71.2,331.0 71.5,327.9 71.8,327.1 72.2,328.4 72.5,326.0 72.8,325.9 73.1,324.9 73.4,325.9 73.7,328.0 74.0,325.9 74.3,328.5 74.6,328.4 75.0,328.0 75.3,330.8 75.6,331.5 75.9,331.2 76.3,330.9 76.6,330.7 76.9,333.0 77.2,331.7 77.5,333.4 77.8,335.3 78.1,334.0 78.4,336.6 78.7,338.2 79.1,337.4 79.4,339.3 79.7,339.1 80.0,338.9 80.3,340.0 80.6,340.9 80.9,343.5 81.3,346.6 81.6,345.5 82.0,347.9 82.3,349.3 82.6,348.8 82.9,350.4 83.2,350.5 83.5,348.4 83.8,350.3 84.2,348.0 84.5,347.9 84.8,347.5 85.1,344.5 85.4,345.5 85.7,342.9 86.1,341.1 86.4,343.2 86.7,341.5 87.0,341.6 87.3,341.0 87.6,339.9 87.9,339.1 88.3,336.6 88.6,333.6 88.9,334.3 89.2,333.2 89.5,330.3 89.9,330.1 90.2,327.5 90.5,327.1 90.8,328.5 91.1,329.3 91.4,329.0 91.7,329.6 92.0,330.7 92.3,332.8 92.6,333.6 93.0,333.7 93.3,336.6 93.6,339.2 93.9,340.0 94.3,340.9 94.6,340.4 94.9,339.9 95.2,342.7 95.6,342.3 95.9,341.3 96.2,337.7 96.5,337.9 96.8,336.3 97.1,336.7 97.4,334.2 97.7,334.1 98.0,332.6 98.4,332.2 98.7,334.7 99.0,332.1 99.3,333.8 99.6,332.8 99.9,331.8 100.2,333.3 100.6,332.8 100.9,333.0 101.2,333.2 101.5,333.4 101.8,334.3 102.1,334.5 102.5,335.6 102.8,336.0 103.1,335.6 103.4,336.1 103.7,335.2 104.0,335.7 104.4,335.4 104.7,335.1 105.0,335.8 105.3,335.5 105.6,336.4 105.9,336.8 106.2,337.2 106.4,337.0 106.7,338.0 107.0,338.2 107.3,337.3 107.6,337.1 107.9,336.0 108.2,336.0 108.5,335.5 108.8,334.3 109.1,333.8 109.4,333.5 109.7,333.8 110.0,333.4 110.3,333.9 110.5,333.5 110.8,334.1 111.1,333.9 111.4,334.5 111.7,334.3 112.0,333.4 112.3,333.2 112.6,332.7 112.9,332.6 113.2,331.7 113.5,331.0 113.8,330.6 114.1,330.4 114.4,329.8 114.7,328.3 115.0,327.9 115.3,326.3 115.6,325.7 115.9,325.9 116.2,326.1 116.5,327.2 116.8,327.6 117.1,327.8 117.4,327.7 117.7,328.1 118.0,328.8 118.3,327.9 118.6,327.4 118.8,326.9 119.1,326.8 119.4,326.1 119.7,325.5 120.0,324.5 120.3,324.1 120.6,324.0 120.9,323.0 121.2,322.7 121.5,322.2 121.8,322.4 122.1,321.6 122.4,321.2 122.7,321.0 123.0,321.1 123.2,320.5 123.5,320.0 123.8,319.9 124.1,319.9 124.4,320.2 124.7,319.4 125.0,319.4 125.3,318.9 125.6,318.4 125.9,318.1 126.2,317.7 126.5,317.6 126.8,316.9 127.0,316.8 127.3,316.3 127.6,315.7 127.9,315.9 128.2,314.9 128.5,315.1 128.8,314.2 129.1,314.3 129.4,313.3 129.7,313.2 130.0,312.8 130.3,312.1 130.6,311.0 130.9,310.4 131.2,310.1 131.5,309.6 131.8,309.3 132.1,309.3 132.4,308.6 132.7,308.8 133.0,308.2 133.3,308.3 133.6,307.7 133.9,307.1 134.2,306.8 134.5,307.1 134.8,306.8 135.1,306.5 135.4,305.8 135.6,305.8 135.9,305.4 136.2,305.3 136.5,304.2 136.8,304.5 137.1,303.7 137.4,303.0 137.7,302.7 138.0,302.3 138.3,302.2 138.6,301.7 138.9,301.2 139.2,300.9 139.5,301.2 139.8,300.7 140.1,300.4 140.4,299.8 140.7,298.7 140.9,298.5 141.2,298.1 141.5,297.9 141.8,297.8 142.1,297.9 142.4,298.3 142.7,297.6 143.0,297.7 143.3,297.8 143.6,297.1 143.8,297.3 144.1,296.6 144.4,297.0 144.7,296.4 145.0,296.7 145.3,296.2 145.6,296.5 145.9,296.2 146.2,296.1 146.5,296.1 146.8,295.5 147.1,295.8 147.4,295.2 147.7,295.4 148.0,295.7 148.2,295.2 148.5,295.8 148.8,295.5 149.1,296.2 149.4,295.8 149.7,296.2 150.0,296.2 150.3,295.8 150.6,296.0 150.9,295.3 151.2,295.2 151.5,295.1 151.8,295.1 152.0,294.6 152.3,294.6 152.7,294.1 153.0,292.8 153.3,292.5 153.6,291.2 153.9,290.7 154.2,290.5 154.5,289.6 154.8,289.6 155.1,289.0 155.4,288.9 155.7,288.2 156.0,288.2 156.2,287.6 156.6,286.3 156.9,285.8 157.2,284.4 157.5,284.2 157.8,282.9 158.1,281.8 158.4,280.3 158.7,278.4 159.1,277.4 159.4,278.2 159.7,277.9 160.0,279.0 160.3,278.8 160.6,279.8 160.9,281.6 161.2,279.8 161.6,282.5 161.9,280.7 162.2,282.1 162.5,282.9 162.8,279.6 163.1,278.7 163.4,278.8 163.7,279.5 164.1,278.2 164.4,276.5 164.7,278.3 165.0,277.5 165.3,276.3 165.6,275.1 165.9,273.1 166.2,272.9 166.6,271.6 166.9,272.6 167.2,271.2 167.5,269.0 167.8,269.5 168.1,266.3 168.4,268.0 168.8,265.7 169.1,263.7 169.4,264.7 169.7,261.3 170.0,263.1 170.3,260.6 170.6,260.2 170.9,262.2 171.2,260.1 171.5,259.8 171.8,260.0 172.1,260.9 172.4,263.2 172.7,262.6 172.9,264.4 173.2,262.0 173.5,263.8 173.8,261.9 174.1,265.2 174.4,263.1 174.7,264.1 175.0,265.3 175.3,261.7 175.6,264.1 175.9,261.0 176.2,261.7 176.6,261.8 176.9,262.2 177.1,261.7 177.4,259.7 177.7,259.5 178.0,258.7 178.3,258.7 178.6,259.2 178.9,259.4 179.2,260.3 179.5,260.1 179.8,258.6 180.2,257.1 180.5,257.1 180.8,257.3 181.1,255.3 181.3,256.1 181.6,255.8 181.9,255.8 182.2,252.6 182.5,253.2 182.8,253.6 183.1,251.3 183.4,250.5 183.8,249.4 184.1,250.7 184.4,249.3 184.7,251.3 185.0,252.2 185.3,251.6 185.6,254.6 185.9,254.8 186.1,258.0 186.2,259.9 186.3,259.7 186.5,263.1 186.6,263.7 186.8,267.0 186.9,266.8 187.0,270.4 187.2,273.7 187.4,275.9 187.6,276.0 187.8,277.2 187.9,282.1 188.1,282.9 188.3,285.9 188.5,288.8 188.7,288.5 188.9,291.5 189.2,290.2 189.4,288.8 189.7,286.0 189.9,282.3 190.2,281.3 190.4,280.7 190.6,275.5 190.8,276.4 191.0,272.0 191.2,270.4 191.6,267.7 191.9,264.8 192.2,264.1 192.4,267.4 192.6,267.2 192.8,270.7 193.1,270.0 193.3,273.5 193.6,276.9 193.8,276.1 194.1,280.8 194.4,281.3 194.7,278.4 195.0,278.8 195.3,275.1 195.6,275.1 195.9,276.6 196.2,274.4 196.6,277.5 196.9,276.4 197.2,277.4 197.5,279.2 197.8,278.9 198.1,279.5 198.4,278.3 198.8,279.8 199.1,279.8 199.4,277.8 199.7,276.4 200.0,276.1 200.3,276.6 200.6,275.0 200.9,273.3 201.3,273.3 201.6,274.4 201.9,271.9 202.1,271.6 202.4,266.9 202.6,267.3 202.9,263.2 203.1,262.6 203.4,265.7 203.7,267.1 203.9,268.3 204.2,268.8 204.5,267.8 204.8,269.4 205.2,268.4 205.5,268.6 205.8,267.2 206.1,265.6 206.4,265.2 206.7,263.2 207.0,262.1 207.3,261.0 207.5,258.7 207.7,257.5 207.9,254.8 208.1,253.2 208.4,251.9 208.8,249.9 209.1,248.8 209.4,246.9 209.5,244.3 209.6,242.5 209.7,240.0 210.0,238.3 210.3,237.9 210.6,236.0 210.9,234.8 211.2,233.8 211.6,231.8 211.9,230.8 212.2,228.8 212.5,227.5 212.6,225.8 212.8,223.4 212.9,221.9 213.0,219.3 213.2,217.9 213.3,215.4 213.5,214.3 213.6,211.9 213.8,213.5 214.0,216.1 214.2,217.1 214.5,219.7 214.7,221.2 215.0,223.1 215.3,225.9 215.6,227.5 215.7,229.1 215.9,231.6 216.0,232.8 216.1,235.4 216.2,236.9 216.2,238.7 216.2,241.4 216.2,243.0 216.2,244.7 216.2,247.1 216.2,249.4 216.3,247.5 216.4,245.2 216.5,243.7 216.6,241.0 216.7,239.2 216.8,237.1 216.8,235.7 216.9,233.0 217.0,231.2 217.1,229.3 217.2,227.5 217.5,226.0 217.7,224.1 218.0,222.1 218.3,219.7 218.6,218.9 218.9,217.5 219.2,215.4 219.4,214.8 219.7,213.2 220.0,212.2 220.3,210.5 220.6,209.5 220.9,208.7 221.2,206.9 221.5,205.7 221.8,204.5 222.1,204.0 222.4,202.2 222.7,201.8 223.0,200.2 223.3,200.9 223.6,203.1 223.8,203.6 224.1,205.5 224.4,206.2 224.7,207.5 225.0,208.7 225.3,210.3 225.6,211.2 225.9,212.8 226.3,212.5 226.6,213.6 226.9,215.8 227.2,217.6 227.5,217.2 227.8,219.6 228.1,219.8 228.4,221.2 228.8,223.9 229.1,224.0 229.4,226.6 229.7,227.5 230.0,227.0 230.3,229.3 230.6,227.8 230.9,230.1 231.2,229.8 231.5,231.0 231.8,233.7 232.1,234.3 232.3,236.9 232.6,239.7 232.9,240.6 233.1,243.1 233.4,242.1 233.8,238.5 234.1,237.7 234.4,235.3 234.7,233.6 234.9,234.0 235.2,231.7 235.5,231.4 235.7,233.3 236.0,233.8 236.3,236.6 236.6,236.9 236.9,239.6 237.2,241.6 237.5,242.4 237.8,244.7 238.1,245.0 238.4,243.6 238.8,244.7 239.1,243.1 239.4,243.1 239.7,243.7 240.0,243.5 240.3,243.1 240.6,241.6 240.9,242.9 241.2,246.9 241.4,248.7 241.7,250.2 242.0,249.3 242.3,246.4 242.5,246.4 242.8,244.7 243.1,243.9 243.4,242.3 243.7,239.6 244.1,238.4 244.4,238.2 244.7,236.9 245.0,237.0 245.3,234.9 245.6,235.3 245.9,235.7 246.2,234.9 246.6,235.1 246.9,232.4 247.2,233.0 247.4,235.4 247.6,236.1 247.8,239.2 248.0,240.0 248.3,238.1 248.6,237.5 248.9,234.2 249.2,234.1 249.5,232.2 249.8,229.8 250.2,230.6 250.5,227.4 250.8,228.3 251.1,225.9 251.4,225.3 251.7,226.7 252.0,226.2 252.3,225.8 252.7,225.2 252.9,225.5 253.2,228.3 253.5,228.5 253.8,230.6 254.1,232.7 254.4,232.2 254.7,235.2 255.0,235.3 255.3,236.7 255.6,239.9 255.9,240.4 256.2,243.1 256.5,243.4 256.8,241.5 257.1,242.9 257.3,241.6 257.7,242.2 258.0,242.9 258.3,245.0 258.6,246.1 258.9,247.8 259.2,247.4 259.5,249.5 259.8,248.1 260.2,249.4 260.5,250.2 260.8,250.9 261.1,249.3 261.4,250.6 261.7,249.9 262.0,249.4 262.3,250.6 262.6,249.2 262.9,248.6 263.2,250.8 263.5,249.0 263.8,250.8 264.1,250.4 264.4,250.2 264.7,251.2 265.0,249.7 265.3,251.4 265.6,250.7 265.8,252.3 266.1,250.9 266.4,251.3 266.7,252.5 267.0,252.6 267.3,251.1 267.7,250.8 268.0,249.2 268.3,247.8 268.6,245.9 268.8,245.8 269.1,242.5 269.4,241.6 269.7,240.8 270.0,238.1 270.3,238.0 270.6,236.1 270.9,235.3 271.2,237.8 271.6,236.1 271.9,236.6 272.2,238.3 272.5,238.8 272.8,237.1 273.1,239.3 273.4,238.4 273.8,238.4 274.1,239.8 274.4,239.1 274.7,241.0 275.0,240.8 275.3,237.6 275.6,237.7 275.9,234.8 276.2,232.2 276.6,231.7 276.9,229.0 277.2,228.9 277.5,226.2 277.8,225.2 278.1,225.0 278.4,222.8 278.8,222.9 279.1,222.1 279.4,222.0 279.7,222.3 280.0,220.8 280.3,220.2 280.6,221.1 280.9,220.6 281.2,219.7 281.6,219.5 281.9,221.0 282.2,219.4 282.5,221.8 282.8,221.2 283.1,220.7 283.4,222.7 283.8,221.4 284.1,222.1 284.4,223.6 284.7,223.0 285.0,225.9 285.3,224.4 285.6,226.4 285.9,226.7 286.3,225.3 286.6,226.2 286.9,224.2 287.2,225.0 287.5,223.6 287.8,221.8 288.1,222.9 288.4,220.5 288.7,221.9 288.9,219.2 289.2,218.7 289.5,218.9 289.8,218.2 290.2,219.2 290.5,219.3 290.8,221.6 291.1,221.2 291.4,221.5 291.7,223.7 292.0,224.1 292.3,225.0 292.7,225.2 293.0,223.4 293.3,224.1 293.6,221.8 293.9,222.2 294.2,220.5 294.5,219.2 294.8,220.6 295.2,220.1 295.5,219.8 295.8,218.1 296.1,216.4 296.4,218.1 296.7,215.7 296.9,217.2 297.2,214.7 297.5,215.6 297.8,213.6 298.1,214.2 298.4,214.3 298.7,212.9 299.0,213.8 299.3,212.4 299.6,211.7 299.9,211.2 300.2,213.3 300.5,211.9 300.8,210.9 301.1,213.4 301.3,213.6 301.6,211.6 301.9,212.2 302.2,214.2 302.5,212.5 302.8,213.4 303.1,214.1 303.4,211.9 303.7,212.9 304.0,211.5 304.3,212.2 304.6,212.2 304.9,211.4 305.2,210.3 305.5,209.7 305.7,210.7 306.0,209.4 306.3,210.6 306.6,208.2 306.9,209.9 307.2,207.8 307.5,208.8 307.8,209.4 308.1,207.8 308.4,209.3 308.7,209.0 309.0,208.6 309.3,206.6 309.5,207.9 309.8,207.2 310.2,207.4 310.5,208.9 310.8,208.3 311.1,210.1 311.4,210.3 311.7,208.9 312.0,210.4 312.3,208.6 312.6,210.5 312.9,208.9 313.2,208.1 313.5,207.9 313.8,208.8 314.0,209.4 314.3,207.7 314.6,209.1 314.9,208.8 315.2,208.6 315.5,206.9 315.8,208.1 316.1,207.2 316.4,207.1 316.7,209.2 317.0,208.2 317.3,210.0 317.7,210.3 318.0,210.1 318.2,210.2 318.5,207.6 318.8,206.7 319.1,206.5 319.4,207.9 319.7,205.0 320.0,205.6 320.3,206.1 320.6,204.8 320.9,204.1 321.2,204.8 321.5,204.4 321.8,204.1 322.0,205.6 322.3,204.8 322.7,204.5 323.0,207.3 323.3,208.0 323.6,208.8 323.9,208.8 324.2,208.5 324.5,210.4 324.8,210.0 325.2,210.5 325.5,211.9 325.8,211.3 326.1,211.1 326.3,210.9 326.6,212.4 326.9,211.0 327.2,212.3 327.5,210.9 327.8,211.9 328.1,212.5 328.4,211.3 328.7,210.7 329.0,211.0 329.3,212.3 329.6,210.2 329.9,212.3 330.2,211.1 330.5,210.1 330.7,212.1 331.0,209.9 331.3,211.1 331.6,210.2 331.9,209.3 332.2,209.4 332.5,210.3 332.8,210.7 333.1,209.3 333.4,210.8 333.7,209.2 334.0,210.8 334.3,210.4 334.5,210.6 334.8,209.5 335.1,208.4 335.4,209.8 335.7,210.0 336.0,210.3 336.3,209.6 336.6,209.7 336.9,209.4 337.2,208.8 337.5,209.6 337.8,207.8 338.1,207.9 338.4,207.3 338.7,208.7 338.9,207.4 339.2,208.8 339.5,208.0 339.8,206.9 340.2,207.1 340.5,205.3 340.8,204.6 341.1,204.8 341.4,204.3 341.7,205.2 342.0,203.4 342.3,203.3 342.6,203.5 342.9,203.1 343.1,205.0 343.4,204.1 343.7,204.0 344.0,204.2 344.3,204.2 344.6,204.1 344.9,206.2 345.2,204.6 345.5,206.9 345.8,206.4 346.1,206.4 346.4,208.1 346.7,208.7 347.0,209.4 347.3,209.5 347.7,208.7 348.0,209.7 348.3,207.9 348.6,209.2 348.9,208.0 349.2,206.5 349.5,208.2 349.8,205.5 350.2,207.3 350.5,205.6 350.8,204.9 351.1,207.1 351.4,205.9 351.7,206.3 352.0,207.2 352.3,208.1 352.7,207.5 353.0,208.1 353.3,210.2 353.6,209.5 353.9,210.6 354.2,211.2 354.5,210.3 354.8,212.5 355.2,211.9 355.5,212.2 355.8,214.2 356.1,213.1 356.4,215.3 356.7,215.0 357.0,214.4 357.3,211.8 357.7,212.0 358.0,210.7 358.3,208.8 358.6,207.5 358.9,208.4 359.2,208.5 359.5,206.5 359.8,206.4 360.2,206.1 360.5,207.1 360.8,207.6 361.1,210.7 361.4,210.3 361.7,209.4 362.0,206.7 362.2,203.8 362.5,202.2 362.8,203.0 363.1,202.1 363.4,202.0 363.8,200.6 364.0,198.3 364.3,199.5 364.6,196.1 364.8,195.9 365.1,196.4 365.4,198.1 365.7,199.7 365.9,202.2 366.3,204.0 366.6,206.1 366.9,208.4 367.1,210.0 367.3,212.7 367.6,214.0 367.8,216.2 368.0,218.6 368.3,220.0 368.5,222.4 368.8,224.1 369.0,225.7 369.2,228.4 369.5,229.7 369.7,231.9 370.0,234.2 370.3,235.6 370.6,238.1 370.9,239.7 371.2,240.3 371.6,241.8 371.9,242.8 372.2,244.6 372.5,247.1 372.8,249.1 372.9,250.8 372.9,253.3 373.0,254.4 373.1,257.0 373.1,258.4 373.1,260.8 373.1,261.8 373.1,264.5 373.1,266.4 373.1,267.8 373.2,265.7 373.2,263.3 373.3,261.5 373.3,260.1 373.3,257.6 373.4,256.1 373.4,253.8 373.6,252.1 373.8,250.4 373.9,247.8 374.1,246.4 374.2,244.4 374.5,242.0 374.8,240.8 375.0,238.1 375.3,236.6 375.6,235.3 375.9,234.0 376.2,232.8 376.6,231.1 376.9,231.5 377.2,233.0 377.5,233.0 377.8,234.0 378.1,235.0 378.4,233.4 378.8,232.9 379.1,231.1 379.4,230.3 379.6,228.6 379.8,225.8 380.0,224.1 380.3,222.2 380.6,220.1 380.9,217.8 381.3,216.7 381.6,214.5 381.9,213.4 382.2,214.4 382.5,213.3 382.8,213.9 383.1,214.7 383.4,213.8 383.8,215.4 384.1,213.7 384.4,216.0 384.7,215.5 385.0,215.0 385.3,217.0 385.6,215.7 385.9,217.6 386.1,216.2 386.4,217.9 386.7,217.8 387.0,215.5 387.3,214.4 387.7,215.0 388.0,213.9 388.3,211.6 388.6,212.6 388.9,211.2 389.2,212.5 389.5,214.0 389.8,213.9 390.2,214.2 390.5,213.4 390.8,210.4 391.1,211.5 391.4,210.0 391.7,208.5 392.0,209.7 392.3,206.9 392.7,208.2 393.0,206.9 393.3,206.9 393.6,208.5 393.9,207.8 394.2,210.5 394.5,210.0 394.8,211.3 395.2,212.5 395.5,211.5 395.8,214.3 396.1,213.9 396.4,213.9 396.7,215.2 397.0,214.1 397.3,214.6 397.7,215.5 398.0,215.3 398.3,215.1 398.6,217.5 398.9,218.0 399.2,217.8 399.5,216.2 399.8,216.9 400.2,215.0 400.5,216.2 400.8,214.7 401.1,213.1 401.4,212.7 401.7,212.0 401.9,213.1 402.2,213.1 402.5,212.5 402.8,210.0 403.1,210.0 403.4,209.8 403.7,207.2 404.1,208.1 404.4,206.0 404.7,206.1 405.0,206.2 405.3,204.8 405.6,204.7 405.9,206.1 406.2,205.5 406.4,203.5 406.7,204.8 407.0,203.8 407.3,203.3 407.6,205.3 407.9,204.6 408.2,203.7 408.5,203.4 408.8,205.0 409.1,204.5 409.4,204.9 409.7,202.0 410.0,203.0 410.3,202.7 410.6,202.5 410.9,200.6 411.3,202.0 411.6,200.4 411.9,202.3 412.2,200.5 412.5,201.8 412.8,201.4 413.1,200.6 413.4,199.9 413.7,199.4 414.0,200.1 414.3,198.1 414.5,199.3 414.8,198.3 415.1,199.7 415.4,202.2 415.7,202.4 415.9,205.3 416.2,208.5 416.4,208.2 416.6,210.4 416.9,213.1 417.2,214.2 417.4,217.0 417.7,216.9 418.0,219.4 418.2,219.3 418.5,216.3 418.8,216.9 419.1,214.7 419.4,212.8 419.7,213.1 420.0,210.4 420.3,210.0 420.6,211.6 420.9,210.4 421.2,213.5 421.6,213.1 421.8,212.8 422.1,211.9 422.4,210.0 422.7,208.4 422.9,208.7 423.2,207.9 423.5,207.0 423.8,205.3 424.1,203.6 424.4,204.7 424.7,203.8 425.0,203.2 425.3,201.4 425.6,200.8 425.9,200.2 426.3,197.2 426.6,197.6 426.9,195.9 427.2,195.1 427.5,198.1 427.8,196.7 428.1,196.6 428.4,198.3 428.8,198.4 429.1,200.7 429.4,200.2 429.7,201.8 430.0,202.2 430.3,201.1 430.6,202.2 430.9,200.9 431.2,201.9 431.4,200.3 431.7,200.2 432.0,200.6 432.3,200.5 432.6,202.3 432.9,200.7 433.2,201.9 433.5,201.4 433.8,203.2 434.1,202.2 434.4,201.0 434.7,200.7 435.0,200.4 435.3,199.8 435.6,199.2 435.9,199.8 436.3,199.5 436.6,199.9 436.9,202.1 437.2,202.4 437.5,202.9 437.8,202.2 438.1,203.7 438.4,203.8 438.7,203.5 439.0,203.6 439.3,204.4 439.5,204.7 439.8,203.8 440.2,201.7 440.5,202.5 440.8,200.0 441.1,201.1 441.4,199.1 441.7,197.0 442.0,197.9 442.2,195.6 442.5,195.9 442.8,196.8 443.1,194.9 443.4,193.7 443.7,193.4 443.9,195.0 444.2,193.4 444.5,193.6 444.8,194.4 445.1,193.2 445.4,193.1 445.7,191.9 446.0,192.6 446.3,191.2 446.6,191.2 446.9,191.3 447.2,190.0 447.5,190.2 447.8,188.7 448.1,189.3 448.4,189.0 448.8,187.8 449.1,186.8 449.4,184.8 449.7,184.3 450.0,182.3 450.3,182.2 450.6,183.4 450.9,182.3 451.3,182.9 451.6,184.0 451.9,183.9 452.2,184.6 452.5,184.1 452.8,185.2 453.1,184.6 453.4,185.5 453.8,184.9 454.1,182.7 454.4,182.7 454.7,180.5 455.0,180.0 455.3,179.9 455.6,178.6 455.9,179.4 456.3,178.8 456.6,178.7 456.9,177.7 457.2,176.9 457.5,176.3 457.8,176.1 458.0,176.7 458.3,175.3 458.6,176.2 458.9,175.3 459.2,173.8 459.5,174.1 459.8,171.9 460.2,171.2 460.5,170.6 460.8,169.5 461.1,168.8 461.4,168.1 461.7,168.6 462.0,167.5 462.3,167.8 462.7,169.8 463.0,170.0 463.3,171.9 463.6,172.2 463.9,172.3 464.2,174.6 464.5,175.3 464.8,176.4 465.2,176.9 465.5,176.2 465.8,175.5 466.1,173.0 466.4,172.8 466.7,171.4 467.0,171.5 467.3,173.4 467.7,172.7 468.0,174.7 468.3,174.5 468.6,173.7 468.9,174.2 469.2,173.9 469.5,173.7 469.8,173.0 470.1,173.3 470.4,174.3 470.7,174.0 471.0,175.5 471.3,175.3 471.6,177.1 471.9,176.9 472.2,176.0 472.5,175.8 472.8,175.0 473.1,176.0 473.4,174.3 473.8,174.5 474.0,174.9 474.3,174.0 474.6,174.5 474.9,174.3 475.2,175.8 475.5,174.8 475.8,174.8 476.1,175.3 476.4,174.0 476.7,174.4 477.0,173.2 477.3,173.4 477.7,172.2 477.9,170.8 478.2,169.4 478.5,168.5 478.8,168.3 479.0,167.9 479.3,167.4 479.6,168.6 479.9,167.4 480.2,168.4 480.5,167.0 480.8,167.5 481.1,167.9 481.4,166.6 481.6,167.3 481.9,165.8 482.2,165.1 482.5,165.8 482.8,165.2 483.1,164.4 483.4,164.9 483.8,163.3 484.1,162.4 484.4,161.8 484.7,162.0 485.0,161.8 485.3,162.9 485.6,162.1 485.9,163.0 486.2,163.4 486.6,162.8 486.9,163.3 487.2,164.4 487.5,166.3 487.8,166.2 488.1,167.5 488.4,168.9 488.7,168.3 489.1,169.0 489.4,169.7 489.7,170.6 490.0,170.3 490.3,168.0 490.6,168.1 490.9,165.5 491.2,165.2 491.6,166.4 491.9,166.0 492.2,166.8 492.5,167.5 492.8,169.1 493.1,169.1 493.4,171.2 493.7,171.9 494.1,172.2 494.3,173.4 494.5,175.6 494.8,178.5 495.0,180.0 495.3,181.3 495.6,182.5 495.9,183.1 496.3,182.0 496.6,180.6 496.9,178.8 497.2,176.9 497.5,176.8 497.8,178.5 498.1,177.6 498.4,178.4 498.8,179.2 499.1,178.0 499.4,176.9 499.7,176.0 500.0,175.3 500.3,176.8 500.5,177.2 500.8,179.4 501.1,180.0 501.4,178.7 501.7,179.2 502.0,177.3 502.3,178.2 502.7,176.9 503.0,176.5 503.3,177.5 503.6,176.8 503.9,177.8 504.2,177.7 504.5,176.3 504.8,177.2 505.2,175.3 505.5,175.9 505.8,174.5 506.1,173.3 506.4,174.2 506.7,172.5 507.0,173.4 507.3,172.2 507.7,171.9 508.0,170.9 508.3,169.5 508.6,169.5 508.9,168.3 509.1,165.9 509.3,165.3 509.5,162.7 509.7,161.2 509.9,159.9 510.2,157.3 510.5,155.8 510.8,154.8 511.1,154.5 511.4,155.0 511.7,153.4 512.0,153.4 512.3,153.7 512.7,151.8 513.0,152.5 513.3,152.2 513.6,151.1 513.9,151.2 514.2,151.2 514.5,152.3 514.8,152.0 515.2,152.7 515.5,153.3 515.7,152.3 516.0,153.3 516.3,152.6 516.6,153.5 516.9,153.5 517.2,152.9 517.5,153.4 517.8,154.3 518.1,154.1 518.4,153.2 518.7,154.4 519.0,153.5 519.3,154.7 519.5,153.8 519.8,154.2 520.1,154.5 520.4,154.3 520.7,154.5 521.0,153.1 521.3,154.2 521.6,154.4 521.9,153.9 522.2,153.4 522.5,153.6 522.8,154.0 523.1,154.3 523.4,155.7 523.8,155.8 524.1,155.4 524.4,154.0 524.7,152.0 525.0,152.2 525.3,150.3 525.6,148.4 525.9,148.2 526.2,147.6 526.6,145.6 526.9,145.8 527.2,143.9 527.5,144.0 527.8,142.6 528.1,142.5 528.4,141.1 528.7,140.2 529.1,140.6 529.4,138.9 529.7,139.4 530.0,137.8 530.0,140.2 530.3,138.8 530.6,140.3 530.9,138.3 531.2,139.2 531.5,136.9 531.8,138.8 532.0,138.2 532.3,137.0 532.6,137.9 532.9,137.7 533.2,138.5 533.5,138.2 533.8,138.7 534.1,137.0 534.4,137.8 534.7,136.4 535.0,133.1 535.3,130.8 535.6,128.8 535.9,128.4 536.3,129.6 536.6,129.2 536.9,128.9 537.2,130.4 537.5,131.6 537.8,132.8 538.1,130.2 538.4,132.1 538.7,129.9 539.1,130.8 539.4,131.1 539.7,128.5 540.0,130.1 540.3,127.6 540.6,127.7 540.9,128.2 541.2,129.4 541.6,128.7 541.9,129.1 542.2,128.4 542.5,131.2 542.7,130.0 543.0,131.3 543.3,133.9 543.6,136.1 543.8,137.7 544.1,137.7 544.4,140.2 544.7,141.5 545.0,140.7 545.3,141.6 545.6,142.2 545.9,144.3 546.1,148.4 546.4,149.4 546.7,147.0 547.0,148.1 547.2,145.1 547.5,144.8 547.8,144.5 548.1,143.8 548.4,143.0 548.8,140.8 549.1,140.2 549.4,142.3 549.7,140.8 550.0,142.6 550.3,141.6 550.6,140.7 550.9,142.1 551.3,139.2 551.6,140.3 551.9,139.3 552.2,138.4 552.5,140.6 552.8,139.0 553.1,140.8 553.4,143.3 553.7,142.3 553.9,145.5 554.2,145.5 554.5,144.0 554.8,145.3 555.2,144.6 555.5,144.2 555.8,142.4 556.1,142.6 556.4,145.4 556.7,144.0 557.0,147.0 557.3,146.3 557.7,146.2 558.0,148.8 558.3,147.3 558.6,148.3 558.9,149.4 559.2,148.0 559.5,147.8 559.8,149.3 560.2,148.3 560.5,147.1 560.8,144.7 561.1,145.7 561.4,143.1 561.7,143.9 562.0,141.6 562.3,140.1 562.7,142.4 563.0,141.8 563.3,140.2 563.6,140.8 563.9,139.3 564.2,141.1 564.5,140.3 564.8,139.9 565.0,139.8 565.3,137.5 565.6,137.7 565.9,138.1 566.2,139.9 566.6,139.4 566.9,140.8 567.1,143.6 567.3,143.7 567.6,147.9 567.8,149.4 568.0,152.8 568.1,154.7 568.3,154.4 568.4,157.2 568.6,160.7 568.9,162.7 569.1,163.5 569.3,162.0 569.5,158.3 569.6,157.1 569.8,155.7 570.1,153.5 570.4,153.3 570.6,151.0 570.9,148.6 571.2,149.2 571.6,147.1 571.9,146.3 572.2,146.5 572.5,144.3 572.8,144.5 573.1,142.5 573.4,142.4 573.8,144.3 574.1,142.1 574.4,144.9 574.7,143.6 575.0,144.8 575.3,144.5 575.6,142.6 575.9,142.2 576.2,140.8 576.6,140.1 576.9,140.0 577.2,138.2 577.5,138.8 577.8,137.1 578.1,136.9 578.4,136.2 578.7,134.1 578.9,133.7 579.2,132.2 579.5,131.1 579.7,128.9 580.0,126.9 580.3,125.8 580.6,125.7 580.9,124.2 581.2,123.8 581.5,123.3 581.8,121.5 582.1,120.2 582.3,119.8 582.6,117.3 582.9,115.5 583.1,113.6 583.4,112.1 583.8,112.1 584.1,110.2 584.4,109.7 584.7,109.7 585.0,108.0 585.3,108.4 585.6,106.6 585.9,106.6 586.2,107.4 586.5,108.2 586.8,107.8 587.0,108.9 587.3,107.0 587.7,106.9 588.0,104.7 588.3,104.3 588.6,102.7 588.9,102.3 589.2,103.5 589.5,102.8 589.8,103.6 590.2,103.4 590.5,103.0 590.8,105.0 591.1,103.5 591.4,105.5 591.7,105.0 592.0,103.8 592.3,105.8 592.7,103.4 593.0,104.5 593.3,103.4 593.6,102.2 593.9,103.0 594.2,100.1 594.5,101.6 594.8,99.5 595.2,100.1 595.5,97.4 595.8,96.6 596.1,97.0 596.4,95.6 596.7,93.5 597.0,94.7 597.2,92.6 597.5,92.2 597.8,93.5 598.1,94.5 598.4,92.4 598.8,94.1 599.1,93.5 599.4,96.5 599.7,95.1 600.0,96.4 600.3,96.5 600.5,96.6 600.8,99.4 601.1,99.5 601.4,99.2 601.6,100.2 601.9,101.1 602.2,103.4 602.5,103.5 602.8,101.5 603.1,103.1 603.4,101.9 603.8,102.1 604.1,105.1 604.4,103.8 604.7,105.8 605.0,105.8 605.2,107.3 605.5,109.3 605.8,109.7 606.1,109.9 606.3,112.6 606.6,113.8 606.9,113.6 607.2,114.2 607.5,112.4 607.8,112.9 608.1,112.0 608.4,112.3 608.8,115.7 609.1,114.8 609.4,117.5 609.7,118.3 609.9,115.0 610.2,115.0 610.5,115.2 610.7,115.4 611.0,118.8 611.3,118.8 611.6,120.6 611.9,122.7 612.2,122.4 612.5,123.8 612.8,125.1 613.0,126.6 613.3,127.7 613.6,128.4 613.9,130.0 614.1,132.8 614.4,134.7 614.6,137.0 614.8,139.2 615.0,140.9 615.2,143.2 615.4,143.7 615.6,144.8 615.9,144.0 616.2,143.5 616.4,143.2 616.7,143.2 617.0,142.0 617.3,141.2 617.5,140.4 617.8,140.1 618.1,138.4 618.4,136.3 618.8,133.8 619.1,132.0 619.4,131.1 619.7,129.1 619.9,131.5 620.1,133.0 620.3,135.4 620.4,136.8 620.4,138.8 620.5,140.9 620.6,142.4 620.6,144.8 620.6,147.3 620.7,149.2 620.7,150.5 620.7,153.3 620.8,154.9 620.8,157.2 620.8,159.8 620.8,161.0 620.8,163.8 620.8,165.2 620.8,167.9 620.8,169.9 620.8,172.2 620.8,174.1 620.8,176.0" fill="none" stroke="#70ad47" stroke-width="2.5" stroke-linejoin="round" stroke-miterlimit="2.5" stroke-linecap="round" stroke-dasharray="4.8 4.4"/>
<line x1="60" x2="86.5" y1="397.2" y2="397.2" stroke="#4472c4" stroke-width="2.4" stroke-linecap="butt"/>
<text x="88.5" y="400.4" font-size="9" fill="#595959" textLength="62.5" lengthAdjust="spacingAndGlyphs">EOW/MOW portf</text>
<line x1="168.5" x2="195" y1="397.2" y2="397.2" stroke="#ed7d31" stroke-width="2.4" stroke-linecap="butt"/>
<text x="197.5" y="400.4" font-size="9" fill="#595959" textLength="62.5" lengthAdjust="spacingAndGlyphs">MOW/BOW portf</text>
<line x1="278.5" x2="305" y1="397.2" y2="397.2" stroke="#a5a5a5" stroke-width="2.4" stroke-linecap="butt"/>
<text x="307" y="400.4" font-size="9" fill="#595959" textLength="60" lengthAdjust="spacingAndGlyphs">BOW/EOW portf</text>
<line x1="384.5" x2="411.5" y1="397.2" y2="397.2" stroke="#ffc000" stroke-width="2.4" stroke-linecap="butt"/>
<text x="413.8" y="400.4" font-size="9" fill="#595959" textLength="69.3" lengthAdjust="spacingAndGlyphs">MOW/BOW X portf</text>
<line x1="502.2" x2="527" y1="397.2" y2="397.2" stroke="#70ad47" stroke-width="2.4" stroke-dasharray="4.7 4.8" stroke-linecap="round"/>
<text x="530" y="400.4" font-size="9" fill="#595959" textLength="53.5" lengthAdjust="spacingAndGlyphs">buyHOLD EOW</text>
</svg></body></html>
